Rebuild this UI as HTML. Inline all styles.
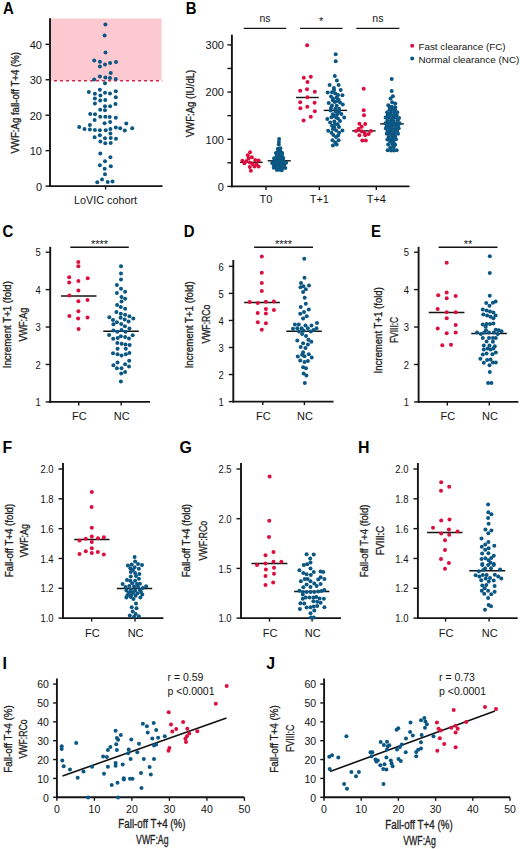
<!DOCTYPE html>
<html><head><meta charset="utf-8"><style>
html,body{margin:0;padding:0;background:#fff;}
svg{display:block;}
text{font-family:"Liberation Sans", sans-serif;}
</style></head><body>
<svg width="520" height="849" viewBox="0 0 520 849">
<rect width="520" height="849" fill="#fff"/>
<rect x="50.8" y="18.5" width="110.7" height="62.10" fill="#fdc9d1"/>
<line x1="50.80" y1="80.75" x2="162.50" y2="80.75" stroke="#c81a40" stroke-width="1.5" stroke-dasharray="2.7 3.3" stroke-dashoffset="2.6"/>
<text transform="translate(3.00 13.60) scale(0.905 1)" font-size="16.5" font-weight="bold" fill="#000">A</text>
<line x1="50.00" y1="18.30" x2="50.00" y2="187.00" stroke="#141414" stroke-width="1.9" />
<line x1="45.50" y1="186.10" x2="50.00" y2="186.10" stroke="#141414" stroke-width="1.4" />
<text x="42.00" y="190.50" font-size="11" text-anchor="end" fill="#141414" >0</text>
<line x1="45.50" y1="150.65" x2="50.00" y2="150.65" stroke="#141414" stroke-width="1.4" />
<text x="42.00" y="155.05" font-size="11" text-anchor="end" fill="#141414" >10</text>
<line x1="45.50" y1="115.20" x2="50.00" y2="115.20" stroke="#141414" stroke-width="1.4" />
<text x="42.00" y="119.60" font-size="11" text-anchor="end" fill="#141414" >20</text>
<line x1="45.50" y1="79.75" x2="50.00" y2="79.75" stroke="#141414" stroke-width="1.4" />
<text x="42.00" y="84.15" font-size="11" text-anchor="end" fill="#141414" >30</text>
<line x1="45.50" y1="44.30" x2="50.00" y2="44.30" stroke="#141414" stroke-width="1.4" />
<text x="42.00" y="48.70" font-size="11" text-anchor="end" fill="#141414" >40</text>
<line x1="49.10" y1="186.10" x2="162.50" y2="186.10" stroke="#141414" stroke-width="1.9" />
<line x1="105.60" y1="186.10" x2="105.60" y2="189.60" stroke="#141414" stroke-width="1.4" />
<text x="105.50" y="203.80" font-size="10.8" text-anchor="middle" fill="#141414" >LoVIC cohort</text>
<text x="19.40" y="102.80" font-size="11" text-anchor="middle" fill="#1e1e1e" stroke="#1e1e1e" stroke-width="0.32" textLength="101.50" lengthAdjust="spacingAndGlyphs" transform="rotate(-90 19.40 102.80)">VWF:Ag fall-off T+4 (%)</text>
<text transform="translate(185.80 13.60) scale(0.905 1)" font-size="16.5" font-weight="bold" fill="#000">B</text>
<line x1="231.90" y1="34.70" x2="231.90" y2="187.30" stroke="#141414" stroke-width="1.9" />
<line x1="227.40" y1="186.40" x2="231.90" y2="186.40" stroke="#141414" stroke-width="1.4" />
<text x="223.90" y="190.80" font-size="11" text-anchor="end" fill="#141414" >0</text>
<line x1="227.40" y1="139.23" x2="231.90" y2="139.23" stroke="#141414" stroke-width="1.4" />
<text x="223.90" y="143.63" font-size="11" text-anchor="end" fill="#141414" >100</text>
<line x1="227.40" y1="92.06" x2="231.90" y2="92.06" stroke="#141414" stroke-width="1.4" />
<text x="223.90" y="96.46" font-size="11" text-anchor="end" fill="#141414" >200</text>
<line x1="227.40" y1="44.89" x2="231.90" y2="44.89" stroke="#141414" stroke-width="1.4" />
<text x="223.90" y="49.29" font-size="11" text-anchor="end" fill="#141414" >300</text>
<line x1="227.40" y1="162.81" x2="231.90" y2="162.81" stroke="#141414" stroke-width="1.4" />
<line x1="227.40" y1="115.65" x2="231.90" y2="115.65" stroke="#141414" stroke-width="1.4" />
<line x1="227.40" y1="68.48" x2="231.90" y2="68.48" stroke="#141414" stroke-width="1.4" />
<line x1="231.00" y1="186.40" x2="409.50" y2="186.40" stroke="#141414" stroke-width="1.9" />
<line x1="266.00" y1="186.40" x2="266.00" y2="189.90" stroke="#141414" stroke-width="1.4" />
<text x="266.00" y="203.00" font-size="11" text-anchor="middle" fill="#141414" >T0</text>
<line x1="319.30" y1="186.40" x2="319.30" y2="189.90" stroke="#141414" stroke-width="1.4" />
<text x="319.30" y="203.00" font-size="11" text-anchor="middle" fill="#141414" >T+1</text>
<line x1="376.30" y1="186.40" x2="376.30" y2="189.90" stroke="#141414" stroke-width="1.4" />
<text x="376.30" y="203.00" font-size="11" text-anchor="middle" fill="#141414" >T+4</text>
<line x1="243.70" y1="28.40" x2="286.20" y2="28.40" stroke="#141414" stroke-width="1.4" />
<text x="264.95" y="22.20" font-size="10.5" text-anchor="middle" fill="#141414" >ns</text>
<line x1="300.00" y1="28.40" x2="342.50" y2="28.40" stroke="#141414" stroke-width="1.4" />
<text x="321.25" y="25.20" font-size="11" text-anchor="middle" fill="#141414" >*</text>
<line x1="356.30" y1="28.40" x2="399.40" y2="28.40" stroke="#141414" stroke-width="1.4" />
<text x="377.85" y="22.20" font-size="10.5" text-anchor="middle" fill="#141414" >ns</text>
<text x="418.40" y="50.00" font-size="9.9" text-anchor="start" fill="#141414" >Fast clearance (FC)</text>
<text x="418.40" y="62.90" font-size="9.9" text-anchor="start" fill="#141414" >Normal clearance (NC)</text>
<text x="194.10" y="103.50" font-size="11" text-anchor="middle" fill="#1e1e1e" stroke="#1e1e1e" stroke-width="0.32" textLength="67.50" lengthAdjust="spacingAndGlyphs" transform="rotate(-90 194.10 103.50)">VWF:Ag (IU/dL)</text>
<text transform="translate(2.50 236.50) scale(0.905 1)" font-size="16.5" font-weight="bold" fill="#000">C</text>
<line x1="50.20" y1="246.80" x2="50.20" y2="402.80" stroke="#141414" stroke-width="1.9" />
<line x1="45.70" y1="401.90" x2="50.20" y2="401.90" stroke="#141414" stroke-width="1.4" />
<text transform="translate(40.70 406.10) scale(0.9 1)" font-size="10.5" text-anchor="end" fill="#141414">1</text>
<line x1="45.70" y1="364.47" x2="50.20" y2="364.47" stroke="#141414" stroke-width="1.4" />
<text transform="translate(40.70 368.67) scale(0.9 1)" font-size="10.5" text-anchor="end" fill="#141414">2</text>
<line x1="45.70" y1="327.04" x2="50.20" y2="327.04" stroke="#141414" stroke-width="1.4" />
<text transform="translate(40.70 331.24) scale(0.9 1)" font-size="10.5" text-anchor="end" fill="#141414">3</text>
<line x1="45.70" y1="289.61" x2="50.20" y2="289.61" stroke="#141414" stroke-width="1.4" />
<text transform="translate(40.70 293.81) scale(0.9 1)" font-size="10.5" text-anchor="end" fill="#141414">4</text>
<line x1="45.70" y1="252.18" x2="50.20" y2="252.18" stroke="#141414" stroke-width="1.4" />
<text transform="translate(40.70 256.38) scale(0.9 1)" font-size="10.5" text-anchor="end" fill="#141414">5</text>
<line x1="49.30" y1="401.90" x2="150.00" y2="401.90" stroke="#141414" stroke-width="1.9" />
<line x1="78.70" y1="401.90" x2="78.70" y2="405.40" stroke="#141414" stroke-width="1.4" />
<text x="79.30" y="419.50" font-size="11" text-anchor="middle" fill="#141414" >FC</text>
<line x1="121.20" y1="401.90" x2="121.20" y2="405.40" stroke="#141414" stroke-width="1.4" />
<text x="121.80" y="419.50" font-size="11" text-anchor="middle" fill="#141414" >NC</text>
<text x="10.60" y="324.70" font-size="11" text-anchor="middle" fill="#1e1e1e" stroke="#1e1e1e" stroke-width="0.32" textLength="87.20" lengthAdjust="spacingAndGlyphs" transform="rotate(-90 10.60 324.70)">Increment T+1 (fold)</text>
<text x="26.70" y="324.65" font-size="11" text-anchor="middle" fill="#1e1e1e" stroke="#1e1e1e" stroke-width="0.32" textLength="33.80" lengthAdjust="spacingAndGlyphs" transform="rotate(-90 26.70 324.65)">VWF:Ag</text>
<line x1="70.30" y1="247.20" x2="128.80" y2="247.20" stroke="#141414" stroke-width="1.4" />
<text x="99.55" y="248.00" font-size="11" text-anchor="middle" fill="#141414" >****</text>
<text transform="translate(183.80 236.50) scale(0.905 1)" font-size="16.5" font-weight="bold" fill="#000">D</text>
<line x1="233.30" y1="260.00" x2="233.30" y2="402.50" stroke="#141414" stroke-width="1.9" />
<line x1="228.80" y1="401.60" x2="233.30" y2="401.60" stroke="#141414" stroke-width="1.4" />
<text transform="translate(223.80 405.80) scale(0.9 1)" font-size="10.5" text-anchor="end" fill="#141414">1</text>
<line x1="228.80" y1="374.55" x2="233.30" y2="374.55" stroke="#141414" stroke-width="1.4" />
<text transform="translate(223.80 378.75) scale(0.9 1)" font-size="10.5" text-anchor="end" fill="#141414">2</text>
<line x1="228.80" y1="347.50" x2="233.30" y2="347.50" stroke="#141414" stroke-width="1.4" />
<text transform="translate(223.80 351.70) scale(0.9 1)" font-size="10.5" text-anchor="end" fill="#141414">3</text>
<line x1="228.80" y1="320.45" x2="233.30" y2="320.45" stroke="#141414" stroke-width="1.4" />
<text transform="translate(223.80 324.65) scale(0.9 1)" font-size="10.5" text-anchor="end" fill="#141414">4</text>
<line x1="228.80" y1="293.40" x2="233.30" y2="293.40" stroke="#141414" stroke-width="1.4" />
<text transform="translate(223.80 297.60) scale(0.9 1)" font-size="10.5" text-anchor="end" fill="#141414">5</text>
<line x1="228.80" y1="266.35" x2="233.30" y2="266.35" stroke="#141414" stroke-width="1.4" />
<text transform="translate(223.80 270.55) scale(0.9 1)" font-size="10.5" text-anchor="end" fill="#141414">6</text>
<line x1="232.40" y1="401.60" x2="333.60" y2="401.60" stroke="#141414" stroke-width="1.9" />
<line x1="262.80" y1="401.60" x2="262.80" y2="405.10" stroke="#141414" stroke-width="1.4" />
<text x="263.40" y="419.50" font-size="11" text-anchor="middle" fill="#141414" >FC</text>
<line x1="304.40" y1="401.60" x2="304.40" y2="405.10" stroke="#141414" stroke-width="1.4" />
<text x="305.00" y="419.50" font-size="11" text-anchor="middle" fill="#141414" >NC</text>
<text x="193.40" y="324.80" font-size="11" text-anchor="middle" fill="#1e1e1e" stroke="#1e1e1e" stroke-width="0.32" textLength="87.00" lengthAdjust="spacingAndGlyphs" transform="rotate(-90 193.40 324.80)">Increment T+1 (fold)</text>
<text x="210.30" y="324.10" font-size="11" text-anchor="middle" fill="#1e1e1e" stroke="#1e1e1e" stroke-width="0.32" textLength="39.00" lengthAdjust="spacingAndGlyphs" transform="rotate(-90 210.30 324.10)">VWF:RCo</text>
<line x1="254.10" y1="247.20" x2="313.00" y2="247.20" stroke="#141414" stroke-width="1.4" />
<text x="283.55" y="248.00" font-size="11" text-anchor="middle" fill="#141414" >****</text>
<text transform="translate(371.00 236.50) scale(0.905 1)" font-size="16.5" font-weight="bold" fill="#000">E</text>
<line x1="418.60" y1="246.80" x2="418.60" y2="402.80" stroke="#141414" stroke-width="1.9" />
<line x1="414.10" y1="401.90" x2="418.60" y2="401.90" stroke="#141414" stroke-width="1.4" />
<text transform="translate(409.10 406.10) scale(0.9 1)" font-size="10.5" text-anchor="end" fill="#141414">1</text>
<line x1="414.10" y1="364.47" x2="418.60" y2="364.47" stroke="#141414" stroke-width="1.4" />
<text transform="translate(409.10 368.67) scale(0.9 1)" font-size="10.5" text-anchor="end" fill="#141414">2</text>
<line x1="414.10" y1="327.04" x2="418.60" y2="327.04" stroke="#141414" stroke-width="1.4" />
<text transform="translate(409.10 331.24) scale(0.9 1)" font-size="10.5" text-anchor="end" fill="#141414">3</text>
<line x1="414.10" y1="289.61" x2="418.60" y2="289.61" stroke="#141414" stroke-width="1.4" />
<text transform="translate(409.10 293.81) scale(0.9 1)" font-size="10.5" text-anchor="end" fill="#141414">4</text>
<line x1="414.10" y1="252.18" x2="418.60" y2="252.18" stroke="#141414" stroke-width="1.4" />
<text transform="translate(409.10 256.38) scale(0.9 1)" font-size="10.5" text-anchor="end" fill="#141414">5</text>
<line x1="417.70" y1="401.90" x2="518.30" y2="401.90" stroke="#141414" stroke-width="1.9" />
<line x1="447.30" y1="401.90" x2="447.30" y2="405.40" stroke="#141414" stroke-width="1.4" />
<text x="447.90" y="419.50" font-size="11" text-anchor="middle" fill="#141414" >FC</text>
<line x1="489.30" y1="401.90" x2="489.30" y2="405.40" stroke="#141414" stroke-width="1.4" />
<text x="489.90" y="419.50" font-size="11" text-anchor="middle" fill="#141414" >NC</text>
<text x="381.70" y="330.30" font-size="11" text-anchor="middle" fill="#1e1e1e" stroke="#1e1e1e" stroke-width="0.32" textLength="86.40" lengthAdjust="spacingAndGlyphs" transform="rotate(-90 381.70 330.30)">Increment T+1 (fold)</text>
<text x="398.50" y="329.90" font-size="11" text-anchor="middle" fill="#1e1e1e" stroke="#1e1e1e" stroke-width="0.32" textLength="26.10" lengthAdjust="spacingAndGlyphs" transform="rotate(-90 398.50 329.90)">FVIII:C</text>
<line x1="438.60" y1="247.20" x2="497.50" y2="247.20" stroke="#141414" stroke-width="1.4" />
<text x="468.05" y="248.00" font-size="11" text-anchor="middle" fill="#141414" >**</text>
<text transform="translate(2.50 452.60) scale(1.02 1)" font-size="15.6" font-weight="bold" fill="#000">F</text>
<line x1="63.00" y1="463.00" x2="63.00" y2="619.00" stroke="#141414" stroke-width="1.9" />
<line x1="58.50" y1="618.10" x2="63.00" y2="618.10" stroke="#141414" stroke-width="1.4" />
<text transform="translate(53.50 622.30) scale(0.9 1)" font-size="10.5" text-anchor="end" fill="#141414">1.0</text>
<line x1="58.50" y1="588.28" x2="63.00" y2="588.28" stroke="#141414" stroke-width="1.4" />
<text transform="translate(53.50 592.48) scale(0.9 1)" font-size="10.5" text-anchor="end" fill="#141414">1.2</text>
<line x1="58.50" y1="558.46" x2="63.00" y2="558.46" stroke="#141414" stroke-width="1.4" />
<text transform="translate(53.50 562.66) scale(0.9 1)" font-size="10.5" text-anchor="end" fill="#141414">1.4</text>
<line x1="58.50" y1="528.64" x2="63.00" y2="528.64" stroke="#141414" stroke-width="1.4" />
<text transform="translate(53.50 532.84) scale(0.9 1)" font-size="10.5" text-anchor="end" fill="#141414">1.6</text>
<line x1="58.50" y1="498.82" x2="63.00" y2="498.82" stroke="#141414" stroke-width="1.4" />
<text transform="translate(53.50 503.02) scale(0.9 1)" font-size="10.5" text-anchor="end" fill="#141414">1.8</text>
<line x1="58.50" y1="469.00" x2="63.00" y2="469.00" stroke="#141414" stroke-width="1.4" />
<text transform="translate(53.50 473.20) scale(0.9 1)" font-size="10.5" text-anchor="end" fill="#141414">2.0</text>
<line x1="62.10" y1="618.10" x2="163.40" y2="618.10" stroke="#141414" stroke-width="1.9" />
<line x1="91.70" y1="618.10" x2="91.70" y2="621.60" stroke="#141414" stroke-width="1.4" />
<text x="92.30" y="636.50" font-size="11" text-anchor="middle" fill="#141414" >FC</text>
<line x1="135.00" y1="618.10" x2="135.00" y2="621.60" stroke="#141414" stroke-width="1.4" />
<text x="135.60" y="636.50" font-size="11" text-anchor="middle" fill="#141414" >NC</text>
<text x="12.80" y="540.60" font-size="11" text-anchor="middle" fill="#1e1e1e" stroke="#1e1e1e" stroke-width="0.32" textLength="73.40" lengthAdjust="spacingAndGlyphs" transform="rotate(-90 12.80 540.60)">Fall-off T+4 (fold)</text>
<text x="27.70" y="540.60" font-size="11" text-anchor="middle" fill="#1e1e1e" stroke="#1e1e1e" stroke-width="0.32" textLength="33.20" lengthAdjust="spacingAndGlyphs" transform="rotate(-90 27.70 540.60)">VWF:Ag</text>
<text transform="translate(179.50 452.60) scale(1.02 1)" font-size="15.6" font-weight="bold" fill="#000">G</text>
<line x1="241.00" y1="463.00" x2="241.00" y2="619.00" stroke="#141414" stroke-width="1.9" />
<line x1="236.50" y1="618.10" x2="241.00" y2="618.10" stroke="#141414" stroke-width="1.4" />
<text transform="translate(231.50 622.30) scale(0.9 1)" font-size="10.5" text-anchor="end" fill="#141414">1.0</text>
<line x1="236.50" y1="568.40" x2="241.00" y2="568.40" stroke="#141414" stroke-width="1.4" />
<text transform="translate(231.50 572.60) scale(0.9 1)" font-size="10.5" text-anchor="end" fill="#141414">1.5</text>
<line x1="236.50" y1="518.70" x2="241.00" y2="518.70" stroke="#141414" stroke-width="1.4" />
<text transform="translate(231.50 522.90) scale(0.9 1)" font-size="10.5" text-anchor="end" fill="#141414">2.0</text>
<line x1="236.50" y1="469.00" x2="241.00" y2="469.00" stroke="#141414" stroke-width="1.4" />
<text transform="translate(231.50 473.20) scale(0.9 1)" font-size="10.5" text-anchor="end" fill="#141414">2.5</text>
<line x1="240.10" y1="618.10" x2="341.00" y2="618.10" stroke="#141414" stroke-width="1.9" />
<line x1="269.50" y1="618.10" x2="269.50" y2="621.60" stroke="#141414" stroke-width="1.4" />
<text x="270.10" y="636.50" font-size="11" text-anchor="middle" fill="#141414" >FC</text>
<line x1="312.10" y1="618.10" x2="312.10" y2="621.60" stroke="#141414" stroke-width="1.4" />
<text x="312.70" y="636.50" font-size="11" text-anchor="middle" fill="#141414" >NC</text>
<text x="190.40" y="540.60" font-size="11" text-anchor="middle" fill="#1e1e1e" stroke="#1e1e1e" stroke-width="0.32" textLength="73.40" lengthAdjust="spacingAndGlyphs" transform="rotate(-90 190.40 540.60)">Fall-off T+4 (fold)</text>
<text x="206.60" y="540.60" font-size="11" text-anchor="middle" fill="#1e1e1e" stroke="#1e1e1e" stroke-width="0.32" textLength="39.70" lengthAdjust="spacingAndGlyphs" transform="rotate(-90 206.60 540.60)">VWF:RCo</text>
<text transform="translate(357.90 452.60) scale(1.02 1)" font-size="15.6" font-weight="bold" fill="#000">H</text>
<line x1="417.90" y1="463.00" x2="417.90" y2="619.00" stroke="#141414" stroke-width="1.9" />
<line x1="413.40" y1="618.10" x2="417.90" y2="618.10" stroke="#141414" stroke-width="1.4" />
<text transform="translate(408.40 622.30) scale(0.9 1)" font-size="10.5" text-anchor="end" fill="#141414">1.0</text>
<line x1="413.40" y1="588.28" x2="417.90" y2="588.28" stroke="#141414" stroke-width="1.4" />
<text transform="translate(408.40 592.48) scale(0.9 1)" font-size="10.5" text-anchor="end" fill="#141414">1.2</text>
<line x1="413.40" y1="558.46" x2="417.90" y2="558.46" stroke="#141414" stroke-width="1.4" />
<text transform="translate(408.40 562.66) scale(0.9 1)" font-size="10.5" text-anchor="end" fill="#141414">1.4</text>
<line x1="413.40" y1="528.64" x2="417.90" y2="528.64" stroke="#141414" stroke-width="1.4" />
<text transform="translate(408.40 532.84) scale(0.9 1)" font-size="10.5" text-anchor="end" fill="#141414">1.6</text>
<line x1="413.40" y1="498.82" x2="417.90" y2="498.82" stroke="#141414" stroke-width="1.4" />
<text transform="translate(408.40 503.02) scale(0.9 1)" font-size="10.5" text-anchor="end" fill="#141414">1.8</text>
<line x1="413.40" y1="469.00" x2="417.90" y2="469.00" stroke="#141414" stroke-width="1.4" />
<text transform="translate(408.40 473.20) scale(0.9 1)" font-size="10.5" text-anchor="end" fill="#141414">2.0</text>
<line x1="417.00" y1="618.10" x2="517.70" y2="618.10" stroke="#141414" stroke-width="1.9" />
<line x1="445.60" y1="618.10" x2="445.60" y2="621.60" stroke="#141414" stroke-width="1.4" />
<text x="446.20" y="636.50" font-size="11" text-anchor="middle" fill="#141414" >FC</text>
<line x1="489.10" y1="618.10" x2="489.10" y2="621.60" stroke="#141414" stroke-width="1.4" />
<text x="489.70" y="636.50" font-size="11" text-anchor="middle" fill="#141414" >NC</text>
<text x="368.20" y="540.90" font-size="11" text-anchor="middle" fill="#1e1e1e" stroke="#1e1e1e" stroke-width="0.32" textLength="72.80" lengthAdjust="spacingAndGlyphs" transform="rotate(-90 368.20 540.90)">Fall-off T+4 (fold)</text>
<text x="383.80" y="540.60" font-size="11" text-anchor="middle" fill="#1e1e1e" stroke="#1e1e1e" stroke-width="0.32" textLength="29.30" lengthAdjust="spacingAndGlyphs" transform="rotate(-90 383.80 540.60)">FVIII:C</text>
<text transform="translate(2.60 668.80) scale(1.02 1)" font-size="15.6" font-weight="bold" fill="#000">I</text>
<line x1="56.90" y1="678.50" x2="56.90" y2="798.20" stroke="#141414" stroke-width="1.9" />
<line x1="53.10" y1="797.30" x2="56.90" y2="797.30" stroke="#141414" stroke-width="1.4" />
<text x="48.90" y="801.70" font-size="10.5" text-anchor="end" fill="#141414" >0</text>
<line x1="53.10" y1="778.43" x2="56.90" y2="778.43" stroke="#141414" stroke-width="1.4" />
<text x="48.90" y="782.83" font-size="10.5" text-anchor="end" fill="#141414" >10</text>
<line x1="53.10" y1="759.56" x2="56.90" y2="759.56" stroke="#141414" stroke-width="1.4" />
<text x="48.90" y="763.96" font-size="10.5" text-anchor="end" fill="#141414" >20</text>
<line x1="53.10" y1="740.69" x2="56.90" y2="740.69" stroke="#141414" stroke-width="1.4" />
<text x="48.90" y="745.09" font-size="10.5" text-anchor="end" fill="#141414" >30</text>
<line x1="53.10" y1="721.82" x2="56.90" y2="721.82" stroke="#141414" stroke-width="1.4" />
<text x="48.90" y="726.22" font-size="10.5" text-anchor="end" fill="#141414" >40</text>
<line x1="53.10" y1="702.95" x2="56.90" y2="702.95" stroke="#141414" stroke-width="1.4" />
<text x="48.90" y="707.35" font-size="10.5" text-anchor="end" fill="#141414" >50</text>
<line x1="53.10" y1="684.08" x2="56.90" y2="684.08" stroke="#141414" stroke-width="1.4" />
<text x="48.90" y="688.48" font-size="10.5" text-anchor="end" fill="#141414" >60</text>
<line x1="56.00" y1="797.30" x2="244.40" y2="797.30" stroke="#141414" stroke-width="1.9" />
<line x1="56.90" y1="797.30" x2="56.90" y2="800.80" stroke="#141414" stroke-width="1.4" />
<text x="56.90" y="812.80" font-size="10.5" text-anchor="middle" fill="#141414" >0</text>
<line x1="94.40" y1="797.30" x2="94.40" y2="800.80" stroke="#141414" stroke-width="1.4" />
<text x="94.40" y="812.80" font-size="10.5" text-anchor="middle" fill="#141414" >10</text>
<line x1="131.90" y1="797.30" x2="131.90" y2="800.80" stroke="#141414" stroke-width="1.4" />
<text x="131.90" y="812.80" font-size="10.5" text-anchor="middle" fill="#141414" >20</text>
<line x1="169.40" y1="797.30" x2="169.40" y2="800.80" stroke="#141414" stroke-width="1.4" />
<text x="169.40" y="812.80" font-size="10.5" text-anchor="middle" fill="#141414" >30</text>
<line x1="206.90" y1="797.30" x2="206.90" y2="800.80" stroke="#141414" stroke-width="1.4" />
<text x="206.90" y="812.80" font-size="10.5" text-anchor="middle" fill="#141414" >40</text>
<line x1="244.40" y1="797.30" x2="244.40" y2="800.80" stroke="#141414" stroke-width="1.4" />
<text x="244.40" y="812.80" font-size="10.5" text-anchor="middle" fill="#141414" >50</text>
<text x="11.50" y="739.00" font-size="11" text-anchor="middle" fill="#1e1e1e" stroke="#1e1e1e" stroke-width="0.32" textLength="67.50" lengthAdjust="spacingAndGlyphs" transform="rotate(-90 11.50 739.00)">Fall-off T+4 (%)</text>
<text x="27.00" y="739.00" font-size="11" text-anchor="middle" fill="#1e1e1e" stroke="#1e1e1e" stroke-width="0.32" textLength="39.10" lengthAdjust="spacingAndGlyphs" transform="rotate(-90 27.00 739.00)">VWF:RCo</text>
<text x="151.90" y="828.40" font-size="12" text-anchor="middle" fill="#1e1e1e" stroke="#1e1e1e" stroke-width="0.32" textLength="67.10" lengthAdjust="spacingAndGlyphs">Fall-off T+4 (%)</text>
<text x="152.30" y="843.90" font-size="12" text-anchor="middle" fill="#1e1e1e" stroke="#1e1e1e" stroke-width="0.32" textLength="32.40" lengthAdjust="spacingAndGlyphs">VWF:Ag</text>
<text x="167.50" y="681.00" font-size="10.5" text-anchor="start" fill="#141414" >r = 0.59</text>
<text x="167.50" y="695.00" font-size="10.5" text-anchor="start" fill="#141414" >p &lt;0.0001</text>
<line x1="62.50" y1="776.00" x2="226.50" y2="718.00" stroke="#111" stroke-width="1.6" />
<text transform="translate(266.30 668.80) scale(1.02 1)" font-size="15.6" font-weight="bold" fill="#000">J</text>
<line x1="324.10" y1="678.50" x2="324.10" y2="798.20" stroke="#141414" stroke-width="1.9" />
<line x1="320.30" y1="797.30" x2="324.10" y2="797.30" stroke="#141414" stroke-width="1.4" />
<text x="316.10" y="801.70" font-size="10.5" text-anchor="end" fill="#141414" >0</text>
<line x1="320.30" y1="778.43" x2="324.10" y2="778.43" stroke="#141414" stroke-width="1.4" />
<text x="316.10" y="782.83" font-size="10.5" text-anchor="end" fill="#141414" >10</text>
<line x1="320.30" y1="759.56" x2="324.10" y2="759.56" stroke="#141414" stroke-width="1.4" />
<text x="316.10" y="763.96" font-size="10.5" text-anchor="end" fill="#141414" >20</text>
<line x1="320.30" y1="740.69" x2="324.10" y2="740.69" stroke="#141414" stroke-width="1.4" />
<text x="316.10" y="745.09" font-size="10.5" text-anchor="end" fill="#141414" >30</text>
<line x1="320.30" y1="721.82" x2="324.10" y2="721.82" stroke="#141414" stroke-width="1.4" />
<text x="316.10" y="726.22" font-size="10.5" text-anchor="end" fill="#141414" >40</text>
<line x1="320.30" y1="702.95" x2="324.10" y2="702.95" stroke="#141414" stroke-width="1.4" />
<text x="316.10" y="707.35" font-size="10.5" text-anchor="end" fill="#141414" >50</text>
<line x1="320.30" y1="684.08" x2="324.10" y2="684.08" stroke="#141414" stroke-width="1.4" />
<text x="316.10" y="688.48" font-size="10.5" text-anchor="end" fill="#141414" >60</text>
<line x1="323.20" y1="797.30" x2="510.00" y2="797.30" stroke="#141414" stroke-width="1.9" />
<line x1="324.00" y1="797.30" x2="324.00" y2="800.80" stroke="#141414" stroke-width="1.4" />
<text x="324.00" y="812.80" font-size="10.5" text-anchor="middle" fill="#141414" >0</text>
<line x1="361.20" y1="797.30" x2="361.20" y2="800.80" stroke="#141414" stroke-width="1.4" />
<text x="361.20" y="812.80" font-size="10.5" text-anchor="middle" fill="#141414" >10</text>
<line x1="398.40" y1="797.30" x2="398.40" y2="800.80" stroke="#141414" stroke-width="1.4" />
<text x="398.40" y="812.80" font-size="10.5" text-anchor="middle" fill="#141414" >20</text>
<line x1="435.60" y1="797.30" x2="435.60" y2="800.80" stroke="#141414" stroke-width="1.4" />
<text x="435.60" y="812.80" font-size="10.5" text-anchor="middle" fill="#141414" >30</text>
<line x1="472.80" y1="797.30" x2="472.80" y2="800.80" stroke="#141414" stroke-width="1.4" />
<text x="472.80" y="812.80" font-size="10.5" text-anchor="middle" fill="#141414" >40</text>
<line x1="510.00" y1="797.30" x2="510.00" y2="800.80" stroke="#141414" stroke-width="1.4" />
<text x="510.00" y="812.80" font-size="10.5" text-anchor="middle" fill="#141414" >50</text>
<text x="277.80" y="739.00" font-size="11" text-anchor="middle" fill="#1e1e1e" stroke="#1e1e1e" stroke-width="0.32" textLength="67.50" lengthAdjust="spacingAndGlyphs" transform="rotate(-90 277.80 739.00)">Fall-off T+4 (%)</text>
<text x="294.00" y="738.30" font-size="11" text-anchor="middle" fill="#1e1e1e" stroke="#1e1e1e" stroke-width="0.32" textLength="27.40" lengthAdjust="spacingAndGlyphs" transform="rotate(-90 294.00 738.30)">FVIII:C</text>
<text x="419.00" y="829.00" font-size="12" text-anchor="middle" fill="#1e1e1e" stroke="#1e1e1e" stroke-width="0.32" textLength="67.30" lengthAdjust="spacingAndGlyphs">Fall-off T+4 (%)</text>
<text x="419.50" y="844.80" font-size="12" text-anchor="middle" fill="#1e1e1e" stroke="#1e1e1e" stroke-width="0.32" textLength="32.50" lengthAdjust="spacingAndGlyphs">VWF:Ag</text>
<text x="439.00" y="681.00" font-size="10.5" text-anchor="start" fill="#141414" >r = 0.73</text>
<text x="439.00" y="695.00" font-size="10.5" text-anchor="start" fill="#141414" >p &lt;0.0001</text>
<line x1="330.00" y1="771.50" x2="495.00" y2="711.00" stroke="#111" stroke-width="1.6" />
<line x1="240.10" y1="162.30" x2="262.60" y2="162.30" stroke="#141414" stroke-width="1.4" />
<line x1="267.70" y1="160.80" x2="290.80" y2="160.80" stroke="#141414" stroke-width="1.4" />
<line x1="296.00" y1="97.50" x2="318.80" y2="97.50" stroke="#141414" stroke-width="1.4" />
<line x1="323.70" y1="110.40" x2="347.10" y2="110.40" stroke="#141414" stroke-width="1.4" />
<line x1="352.20" y1="130.90" x2="375.60" y2="130.90" stroke="#141414" stroke-width="1.4" />
<line x1="380.20" y1="123.90" x2="403.80" y2="123.90" stroke="#141414" stroke-width="1.4" />
<line x1="61.00" y1="295.90" x2="96.50" y2="295.90" stroke="#141414" stroke-width="1.5" />
<line x1="103.30" y1="331.20" x2="138.80" y2="331.20" stroke="#141414" stroke-width="1.5" />
<line x1="244.20" y1="302.60" x2="279.90" y2="302.60" stroke="#141414" stroke-width="1.5" />
<line x1="286.30" y1="331.30" x2="321.80" y2="331.30" stroke="#141414" stroke-width="1.5" />
<line x1="428.70" y1="312.40" x2="464.40" y2="312.40" stroke="#141414" stroke-width="1.5" />
<line x1="471.30" y1="333.60" x2="506.80" y2="333.60" stroke="#141414" stroke-width="1.5" />
<line x1="74.30" y1="539.60" x2="109.50" y2="539.60" stroke="#141414" stroke-width="1.5" />
<line x1="116.80" y1="588.50" x2="152.20" y2="588.50" stroke="#141414" stroke-width="1.5" />
<line x1="251.40" y1="563.60" x2="287.40" y2="563.60" stroke="#141414" stroke-width="1.5" />
<line x1="294.10" y1="591.60" x2="329.40" y2="591.60" stroke="#141414" stroke-width="1.5" />
<line x1="427.10" y1="532.40" x2="462.50" y2="532.40" stroke="#141414" stroke-width="1.5" />
<line x1="469.30" y1="570.70" x2="505.20" y2="570.70" stroke="#141414" stroke-width="1.5" />
<circle cx="412.20" cy="45.70" r="2.0" fill="#dc0e3e"/>
<circle cx="412.20" cy="58.50" r="2.0" fill="#0b5784"/>
<circle cx="105.40" cy="24.40" r="2.0" fill="#0b5784"/>
<circle cx="104.60" cy="35.50" r="2.0" fill="#0b5784"/>
<circle cx="105.50" cy="52.40" r="2.0" fill="#0b5784"/>
<circle cx="94.20" cy="60.40" r="2.0" fill="#0b5784"/>
<circle cx="99.90" cy="61.70" r="2.0" fill="#0b5784"/>
<circle cx="99.90" cy="66.40" r="2.0" fill="#0b5784"/>
<circle cx="105.00" cy="64.50" r="2.0" fill="#0b5784"/>
<circle cx="110.10" cy="63.10" r="2.0" fill="#0b5784"/>
<circle cx="116.00" cy="62.00" r="2.0" fill="#0b5784"/>
<circle cx="110.70" cy="72.90" r="2.0" fill="#0b5784"/>
<circle cx="99.90" cy="76.40" r="2.0" fill="#0b5784"/>
<circle cx="105.40" cy="77.50" r="2.0" fill="#0b5784"/>
<circle cx="110.00" cy="78.00" r="2.0" fill="#0b5784"/>
<circle cx="115.80" cy="79.10" r="2.0" fill="#0b5784"/>
<circle cx="94.20" cy="79.60" r="2.0" fill="#0b5784"/>
<circle cx="105.00" cy="83.30" r="2.0" fill="#0b5784"/>
<circle cx="99.90" cy="89.80" r="2.0" fill="#0b5784"/>
<circle cx="88.80" cy="91.90" r="2.0" fill="#0b5784"/>
<circle cx="94.90" cy="93.70" r="2.0" fill="#0b5784"/>
<circle cx="100.40" cy="95.50" r="2.0" fill="#0b5784"/>
<circle cx="105.00" cy="92.80" r="2.0" fill="#0b5784"/>
<circle cx="110.00" cy="93.50" r="2.0" fill="#0b5784"/>
<circle cx="115.80" cy="91.20" r="2.0" fill="#0b5784"/>
<circle cx="115.80" cy="97.30" r="2.0" fill="#0b5784"/>
<circle cx="94.90" cy="98.50" r="2.0" fill="#0b5784"/>
<circle cx="100.20" cy="100.50" r="2.0" fill="#0b5784"/>
<circle cx="105.30" cy="99.90" r="2.0" fill="#0b5784"/>
<circle cx="94.90" cy="103.60" r="2.0" fill="#0b5784"/>
<circle cx="115.50" cy="104.00" r="2.0" fill="#0b5784"/>
<circle cx="110.10" cy="106.30" r="2.0" fill="#0b5784"/>
<circle cx="105.00" cy="106.30" r="2.0" fill="#0b5784"/>
<circle cx="100.20" cy="109.80" r="2.0" fill="#0b5784"/>
<circle cx="105.00" cy="110.30" r="2.0" fill="#0b5784"/>
<circle cx="90.20" cy="114.10" r="2.0" fill="#0b5784"/>
<circle cx="95.00" cy="114.30" r="2.0" fill="#0b5784"/>
<circle cx="100.20" cy="116.80" r="2.0" fill="#0b5784"/>
<circle cx="105.30" cy="116.80" r="2.0" fill="#0b5784"/>
<circle cx="109.70" cy="117.00" r="2.0" fill="#0b5784"/>
<circle cx="115.80" cy="117.70" r="2.0" fill="#0b5784"/>
<circle cx="94.60" cy="120.00" r="2.0" fill="#0b5784"/>
<circle cx="104.60" cy="123.20" r="2.0" fill="#0b5784"/>
<circle cx="110.10" cy="121.90" r="2.0" fill="#0b5784"/>
<circle cx="126.30" cy="123.40" r="2.0" fill="#0b5784"/>
<circle cx="89.90" cy="125.10" r="2.0" fill="#0b5784"/>
<circle cx="79.20" cy="127.10" r="2.0" fill="#0b5784"/>
<circle cx="84.50" cy="128.90" r="2.0" fill="#0b5784"/>
<circle cx="89.90" cy="129.40" r="2.0" fill="#0b5784"/>
<circle cx="94.90" cy="130.10" r="2.0" fill="#0b5784"/>
<circle cx="99.90" cy="130.20" r="2.0" fill="#0b5784"/>
<circle cx="105.70" cy="130.20" r="2.0" fill="#0b5784"/>
<circle cx="110.40" cy="128.90" r="2.0" fill="#0b5784"/>
<circle cx="115.80" cy="127.40" r="2.0" fill="#0b5784"/>
<circle cx="120.20" cy="128.20" r="2.0" fill="#0b5784"/>
<circle cx="124.80" cy="130.50" r="2.0" fill="#0b5784"/>
<circle cx="132.20" cy="128.20" r="2.0" fill="#0b5784"/>
<circle cx="110.40" cy="133.50" r="2.0" fill="#0b5784"/>
<circle cx="99.90" cy="135.20" r="2.0" fill="#0b5784"/>
<circle cx="94.60" cy="137.20" r="2.0" fill="#0b5784"/>
<circle cx="105.00" cy="138.30" r="2.0" fill="#0b5784"/>
<circle cx="110.70" cy="137.90" r="2.0" fill="#0b5784"/>
<circle cx="116.00" cy="138.80" r="2.0" fill="#0b5784"/>
<circle cx="100.40" cy="141.50" r="2.0" fill="#0b5784"/>
<circle cx="105.30" cy="143.30" r="2.0" fill="#0b5784"/>
<circle cx="110.70" cy="143.00" r="2.0" fill="#0b5784"/>
<circle cx="100.30" cy="153.60" r="2.0" fill="#0b5784"/>
<circle cx="110.40" cy="157.30" r="2.0" fill="#0b5784"/>
<circle cx="105.00" cy="161.20" r="2.0" fill="#0b5784"/>
<circle cx="99.90" cy="165.30" r="2.0" fill="#0b5784"/>
<circle cx="110.80" cy="166.30" r="2.0" fill="#0b5784"/>
<circle cx="104.70" cy="168.80" r="2.0" fill="#0b5784"/>
<circle cx="105.00" cy="174.20" r="2.0" fill="#0b5784"/>
<circle cx="102.00" cy="179.50" r="2.0" fill="#0b5784"/>
<circle cx="97.30" cy="182.20" r="2.0" fill="#0b5784"/>
<circle cx="107.70" cy="182.10" r="2.0" fill="#0b5784"/>
<circle cx="112.50" cy="181.40" r="2.0" fill="#0b5784"/>
<circle cx="250.10" cy="152.20" r="2.0" fill="#dc0e3e"/>
<circle cx="247.80" cy="155.20" r="2.0" fill="#dc0e3e"/>
<circle cx="251.80" cy="157.20" r="2.0" fill="#dc0e3e"/>
<circle cx="248.50" cy="158.60" r="2.0" fill="#dc0e3e"/>
<circle cx="242.40" cy="160.80" r="2.0" fill="#dc0e3e"/>
<circle cx="246.40" cy="161.20" r="2.0" fill="#dc0e3e"/>
<circle cx="255.20" cy="159.90" r="2.0" fill="#dc0e3e"/>
<circle cx="258.60" cy="160.60" r="2.0" fill="#dc0e3e"/>
<circle cx="244.40" cy="163.30" r="2.0" fill="#dc0e3e"/>
<circle cx="249.80" cy="162.60" r="2.0" fill="#dc0e3e"/>
<circle cx="252.50" cy="164.00" r="2.0" fill="#dc0e3e"/>
<circle cx="256.50" cy="164.30" r="2.0" fill="#dc0e3e"/>
<circle cx="258.60" cy="166.60" r="2.0" fill="#dc0e3e"/>
<circle cx="254.50" cy="166.60" r="2.0" fill="#dc0e3e"/>
<circle cx="249.80" cy="167.00" r="2.0" fill="#dc0e3e"/>
<circle cx="250.90" cy="170.70" r="2.0" fill="#dc0e3e"/>
<circle cx="307.10" cy="45.20" r="2.0" fill="#dc0e3e"/>
<circle cx="303.80" cy="77.70" r="2.0" fill="#dc0e3e"/>
<circle cx="310.80" cy="76.80" r="2.0" fill="#dc0e3e"/>
<circle cx="307.50" cy="82.10" r="2.0" fill="#dc0e3e"/>
<circle cx="300.20" cy="90.80" r="2.0" fill="#dc0e3e"/>
<circle cx="307.00" cy="89.20" r="2.0" fill="#dc0e3e"/>
<circle cx="314.80" cy="91.80" r="2.0" fill="#dc0e3e"/>
<circle cx="307.50" cy="97.30" r="2.0" fill="#dc0e3e"/>
<circle cx="300.20" cy="102.30" r="2.0" fill="#dc0e3e"/>
<circle cx="314.60" cy="102.80" r="2.0" fill="#dc0e3e"/>
<circle cx="307.30" cy="106.80" r="2.0" fill="#dc0e3e"/>
<circle cx="300.40" cy="108.30" r="2.0" fill="#dc0e3e"/>
<circle cx="314.80" cy="111.30" r="2.0" fill="#dc0e3e"/>
<circle cx="310.80" cy="116.70" r="2.0" fill="#dc0e3e"/>
<circle cx="303.60" cy="120.50" r="2.0" fill="#dc0e3e"/>
<circle cx="363.70" cy="88.80" r="2.0" fill="#dc0e3e"/>
<circle cx="363.70" cy="110.30" r="2.0" fill="#dc0e3e"/>
<circle cx="364.00" cy="115.20" r="2.0" fill="#dc0e3e"/>
<circle cx="359.40" cy="123.70" r="2.0" fill="#dc0e3e"/>
<circle cx="365.20" cy="124.00" r="2.0" fill="#dc0e3e"/>
<circle cx="361.70" cy="126.80" r="2.0" fill="#dc0e3e"/>
<circle cx="358.80" cy="128.80" r="2.0" fill="#dc0e3e"/>
<circle cx="356.00" cy="130.90" r="2.0" fill="#dc0e3e"/>
<circle cx="361.70" cy="131.20" r="2.0" fill="#dc0e3e"/>
<circle cx="371.00" cy="130.90" r="2.0" fill="#dc0e3e"/>
<circle cx="364.60" cy="132.90" r="2.0" fill="#dc0e3e"/>
<circle cx="368.70" cy="134.00" r="2.0" fill="#dc0e3e"/>
<circle cx="359.40" cy="135.20" r="2.0" fill="#dc0e3e"/>
<circle cx="365.20" cy="135.20" r="2.0" fill="#dc0e3e"/>
<circle cx="362.30" cy="140.60" r="2.0" fill="#dc0e3e"/>
<circle cx="365.80" cy="140.40" r="2.0" fill="#dc0e3e"/>
<circle cx="279.10" cy="139.00" r="2.0" fill="#0b5784"/>
<circle cx="278.90" cy="141.90" r="2.0" fill="#0b5784"/>
<circle cx="278.80" cy="144.60" r="2.0" fill="#0b5784"/>
<circle cx="277.91" cy="148.78" r="2.0" fill="#0b5784"/>
<circle cx="280.41" cy="148.30" r="2.0" fill="#0b5784"/>
<circle cx="278.10" cy="150.86" r="2.0" fill="#0b5784"/>
<circle cx="280.33" cy="151.13" r="2.0" fill="#0b5784"/>
<circle cx="275.91" cy="152.92" r="2.0" fill="#0b5784"/>
<circle cx="279.38" cy="153.25" r="2.0" fill="#0b5784"/>
<circle cx="282.20" cy="152.90" r="2.0" fill="#0b5784"/>
<circle cx="276.61" cy="155.88" r="2.0" fill="#0b5784"/>
<circle cx="278.88" cy="156.06" r="2.0" fill="#0b5784"/>
<circle cx="281.87" cy="155.32" r="2.0" fill="#0b5784"/>
<circle cx="274.07" cy="158.13" r="2.0" fill="#0b5784"/>
<circle cx="277.88" cy="158.00" r="2.0" fill="#0b5784"/>
<circle cx="280.37" cy="158.04" r="2.0" fill="#0b5784"/>
<circle cx="283.30" cy="157.88" r="2.0" fill="#0b5784"/>
<circle cx="274.60" cy="160.50" r="2.0" fill="#0b5784"/>
<circle cx="277.32" cy="160.28" r="2.0" fill="#0b5784"/>
<circle cx="280.18" cy="160.47" r="2.0" fill="#0b5784"/>
<circle cx="283.11" cy="160.12" r="2.0" fill="#0b5784"/>
<circle cx="272.13" cy="162.95" r="2.0" fill="#0b5784"/>
<circle cx="274.75" cy="162.65" r="2.0" fill="#0b5784"/>
<circle cx="277.81" cy="163.19" r="2.0" fill="#0b5784"/>
<circle cx="279.89" cy="162.77" r="2.0" fill="#0b5784"/>
<circle cx="283.15" cy="163.07" r="2.0" fill="#0b5784"/>
<circle cx="286.11" cy="162.84" r="2.0" fill="#0b5784"/>
<circle cx="273.84" cy="165.44" r="2.0" fill="#0b5784"/>
<circle cx="276.20" cy="165.37" r="2.0" fill="#0b5784"/>
<circle cx="279.45" cy="165.58" r="2.0" fill="#0b5784"/>
<circle cx="281.93" cy="165.37" r="2.0" fill="#0b5784"/>
<circle cx="284.34" cy="165.09" r="2.0" fill="#0b5784"/>
<circle cx="273.78" cy="167.63" r="2.0" fill="#0b5784"/>
<circle cx="276.21" cy="167.74" r="2.0" fill="#0b5784"/>
<circle cx="279.55" cy="167.84" r="2.0" fill="#0b5784"/>
<circle cx="282.21" cy="167.65" r="2.0" fill="#0b5784"/>
<circle cx="285.24" cy="167.92" r="2.0" fill="#0b5784"/>
<circle cx="276.92" cy="170.01" r="2.0" fill="#0b5784"/>
<circle cx="279.49" cy="169.72" r="2.0" fill="#0b5784"/>
<circle cx="281.73" cy="170.26" r="2.0" fill="#0b5784"/>
<circle cx="335.70" cy="54.30" r="2.0" fill="#0b5784"/>
<circle cx="335.70" cy="61.30" r="2.0" fill="#0b5784"/>
<circle cx="334.80" cy="76.10" r="2.0" fill="#0b5784"/>
<circle cx="336.90" cy="80.60" r="2.0" fill="#0b5784"/>
<circle cx="329.60" cy="85.10" r="2.0" fill="#0b5784"/>
<circle cx="338.60" cy="85.10" r="2.0" fill="#0b5784"/>
<circle cx="333.90" cy="87.90" r="2.0" fill="#0b5784"/>
<circle cx="340.70" cy="90.00" r="2.0" fill="#0b5784"/>
<circle cx="327.70" cy="92.60" r="2.0" fill="#0b5784"/>
<circle cx="332.00" cy="92.20" r="2.0" fill="#0b5784"/>
<circle cx="335.30" cy="93.60" r="2.0" fill="#0b5784"/>
<circle cx="342.40" cy="95.30" r="2.0" fill="#0b5784"/>
<circle cx="331.00" cy="96.40" r="2.0" fill="#0b5784"/>
<circle cx="336.70" cy="97.40" r="2.0" fill="#0b5784"/>
<circle cx="332.90" cy="100.20" r="2.0" fill="#0b5784"/>
<circle cx="338.60" cy="99.70" r="2.0" fill="#0b5784"/>
<circle cx="328.70" cy="103.00" r="2.0" fill="#0b5784"/>
<circle cx="334.80" cy="102.10" r="2.0" fill="#0b5784"/>
<circle cx="340.00" cy="102.50" r="2.0" fill="#0b5784"/>
<circle cx="342.80" cy="104.40" r="2.0" fill="#0b5784"/>
<circle cx="332.00" cy="105.40" r="2.0" fill="#0b5784"/>
<circle cx="336.70" cy="105.80" r="2.0" fill="#0b5784"/>
<circle cx="335.30" cy="108.70" r="2.0" fill="#0b5784"/>
<circle cx="339.10" cy="108.70" r="2.0" fill="#0b5784"/>
<circle cx="330.60" cy="110.60" r="2.0" fill="#0b5784"/>
<circle cx="335.80" cy="111.50" r="2.0" fill="#0b5784"/>
<circle cx="341.40" cy="113.90" r="2.0" fill="#0b5784"/>
<circle cx="332.90" cy="114.30" r="2.0" fill="#0b5784"/>
<circle cx="337.20" cy="114.30" r="2.0" fill="#0b5784"/>
<circle cx="344.20" cy="117.60" r="2.0" fill="#0b5784"/>
<circle cx="327.30" cy="119.10" r="2.0" fill="#0b5784"/>
<circle cx="331.50" cy="117.20" r="2.0" fill="#0b5784"/>
<circle cx="336.20" cy="117.60" r="2.0" fill="#0b5784"/>
<circle cx="340.00" cy="120.90" r="2.0" fill="#0b5784"/>
<circle cx="330.10" cy="122.40" r="2.0" fill="#0b5784"/>
<circle cx="334.30" cy="121.40" r="2.0" fill="#0b5784"/>
<circle cx="337.60" cy="124.20" r="2.0" fill="#0b5784"/>
<circle cx="332.00" cy="125.70" r="2.0" fill="#0b5784"/>
<circle cx="328.20" cy="130.80" r="2.0" fill="#0b5784"/>
<circle cx="334.30" cy="127.50" r="2.0" fill="#0b5784"/>
<circle cx="336.20" cy="130.40" r="2.0" fill="#0b5784"/>
<circle cx="342.40" cy="130.40" r="2.0" fill="#0b5784"/>
<circle cx="331.50" cy="132.70" r="2.0" fill="#0b5784"/>
<circle cx="339.10" cy="132.70" r="2.0" fill="#0b5784"/>
<circle cx="333.40" cy="135.10" r="2.0" fill="#0b5784"/>
<circle cx="338.10" cy="135.60" r="2.0" fill="#0b5784"/>
<circle cx="332.50" cy="140.30" r="2.0" fill="#0b5784"/>
<circle cx="338.60" cy="140.30" r="2.0" fill="#0b5784"/>
<circle cx="335.30" cy="142.60" r="2.0" fill="#0b5784"/>
<circle cx="332.90" cy="145.50" r="2.0" fill="#0b5784"/>
<circle cx="336.70" cy="144.50" r="2.0" fill="#0b5784"/>
<circle cx="334.00" cy="90.00" r="2.0" fill="#0b5784"/>
<circle cx="338.00" cy="95.00" r="2.0" fill="#0b5784"/>
<circle cx="333.00" cy="98.50" r="2.0" fill="#0b5784"/>
<circle cx="337.00" cy="101.00" r="2.0" fill="#0b5784"/>
<circle cx="331.00" cy="108.00" r="2.0" fill="#0b5784"/>
<circle cx="339.00" cy="112.00" r="2.0" fill="#0b5784"/>
<circle cx="334.00" cy="116.00" r="2.0" fill="#0b5784"/>
<circle cx="338.00" cy="118.50" r="2.0" fill="#0b5784"/>
<circle cx="335.00" cy="124.00" r="2.0" fill="#0b5784"/>
<circle cx="333.00" cy="129.00" r="2.0" fill="#0b5784"/>
<circle cx="339.00" cy="127.00" r="2.0" fill="#0b5784"/>
<circle cx="336.00" cy="137.00" r="2.0" fill="#0b5784"/>
<circle cx="391.70" cy="79.00" r="2.0" fill="#0b5784"/>
<circle cx="391.70" cy="91.00" r="2.0" fill="#0b5784"/>
<circle cx="392.90" cy="96.20" r="2.0" fill="#0b5784"/>
<circle cx="390.60" cy="98.60" r="2.0" fill="#0b5784"/>
<circle cx="392.10" cy="102.30" r="2.0" fill="#0b5784"/>
<circle cx="388.30" cy="105.20" r="2.0" fill="#0b5784"/>
<circle cx="395.20" cy="103.50" r="2.0" fill="#0b5784"/>
<circle cx="389.86" cy="107.36" r="2.0" fill="#0b5784"/>
<circle cx="391.90" cy="106.67" r="2.0" fill="#0b5784"/>
<circle cx="395.27" cy="107.19" r="2.0" fill="#0b5784"/>
<circle cx="389.65" cy="109.55" r="2.0" fill="#0b5784"/>
<circle cx="392.33" cy="109.79" r="2.0" fill="#0b5784"/>
<circle cx="395.05" cy="109.43" r="2.0" fill="#0b5784"/>
<circle cx="387.22" cy="112.31" r="2.0" fill="#0b5784"/>
<circle cx="390.79" cy="112.80" r="2.0" fill="#0b5784"/>
<circle cx="394.31" cy="112.44" r="2.0" fill="#0b5784"/>
<circle cx="397.24" cy="112.21" r="2.0" fill="#0b5784"/>
<circle cx="387.60" cy="114.72" r="2.0" fill="#0b5784"/>
<circle cx="390.83" cy="114.95" r="2.0" fill="#0b5784"/>
<circle cx="393.65" cy="115.41" r="2.0" fill="#0b5784"/>
<circle cx="396.65" cy="115.15" r="2.0" fill="#0b5784"/>
<circle cx="385.64" cy="117.42" r="2.0" fill="#0b5784"/>
<circle cx="388.94" cy="117.51" r="2.0" fill="#0b5784"/>
<circle cx="392.31" cy="118.20" r="2.0" fill="#0b5784"/>
<circle cx="395.66" cy="117.55" r="2.0" fill="#0b5784"/>
<circle cx="399.06" cy="118.04" r="2.0" fill="#0b5784"/>
<circle cx="387.32" cy="120.83" r="2.0" fill="#0b5784"/>
<circle cx="390.77" cy="120.73" r="2.0" fill="#0b5784"/>
<circle cx="393.86" cy="120.88" r="2.0" fill="#0b5784"/>
<circle cx="397.77" cy="120.23" r="2.0" fill="#0b5784"/>
<circle cx="385.40" cy="123.37" r="2.0" fill="#0b5784"/>
<circle cx="387.99" cy="123.22" r="2.0" fill="#0b5784"/>
<circle cx="390.83" cy="123.54" r="2.0" fill="#0b5784"/>
<circle cx="393.66" cy="123.47" r="2.0" fill="#0b5784"/>
<circle cx="396.36" cy="123.51" r="2.0" fill="#0b5784"/>
<circle cx="399.62" cy="123.17" r="2.0" fill="#0b5784"/>
<circle cx="386.66" cy="126.24" r="2.0" fill="#0b5784"/>
<circle cx="389.61" cy="125.89" r="2.0" fill="#0b5784"/>
<circle cx="392.03" cy="125.76" r="2.0" fill="#0b5784"/>
<circle cx="395.23" cy="125.63" r="2.0" fill="#0b5784"/>
<circle cx="398.22" cy="125.71" r="2.0" fill="#0b5784"/>
<circle cx="385.79" cy="128.45" r="2.0" fill="#0b5784"/>
<circle cx="389.17" cy="128.76" r="2.0" fill="#0b5784"/>
<circle cx="392.16" cy="128.61" r="2.0" fill="#0b5784"/>
<circle cx="395.62" cy="128.67" r="2.0" fill="#0b5784"/>
<circle cx="398.69" cy="128.37" r="2.0" fill="#0b5784"/>
<circle cx="387.49" cy="131.65" r="2.0" fill="#0b5784"/>
<circle cx="390.68" cy="130.96" r="2.0" fill="#0b5784"/>
<circle cx="393.94" cy="131.48" r="2.0" fill="#0b5784"/>
<circle cx="397.11" cy="131.05" r="2.0" fill="#0b5784"/>
<circle cx="386.80" cy="133.65" r="2.0" fill="#0b5784"/>
<circle cx="389.52" cy="133.82" r="2.0" fill="#0b5784"/>
<circle cx="391.98" cy="134.30" r="2.0" fill="#0b5784"/>
<circle cx="394.69" cy="134.02" r="2.0" fill="#0b5784"/>
<circle cx="398.08" cy="133.80" r="2.0" fill="#0b5784"/>
<circle cx="388.63" cy="137.00" r="2.0" fill="#0b5784"/>
<circle cx="392.10" cy="136.87" r="2.0" fill="#0b5784"/>
<circle cx="395.10" cy="136.59" r="2.0" fill="#0b5784"/>
<circle cx="387.41" cy="139.54" r="2.0" fill="#0b5784"/>
<circle cx="390.25" cy="139.76" r="2.0" fill="#0b5784"/>
<circle cx="393.12" cy="139.58" r="2.0" fill="#0b5784"/>
<circle cx="396.03" cy="139.20" r="2.0" fill="#0b5784"/>
<circle cx="390.18" cy="141.83" r="2.0" fill="#0b5784"/>
<circle cx="393.52" cy="142.25" r="2.0" fill="#0b5784"/>
<circle cx="388.12" cy="144.43" r="2.0" fill="#0b5784"/>
<circle cx="392.28" cy="144.52" r="2.0" fill="#0b5784"/>
<circle cx="395.19" cy="144.68" r="2.0" fill="#0b5784"/>
<circle cx="390.20" cy="147.69" r="2.0" fill="#0b5784"/>
<circle cx="393.59" cy="147.37" r="2.0" fill="#0b5784"/>
<circle cx="387.67" cy="150.16" r="2.0" fill="#0b5784"/>
<circle cx="391.02" cy="150.39" r="2.0" fill="#0b5784"/>
<circle cx="393.90" cy="150.40" r="2.0" fill="#0b5784"/>
<circle cx="396.63" cy="150.36" r="2.0" fill="#0b5784"/>
<circle cx="78.30" cy="261.90" r="2.0" fill="#dc0e3e"/>
<circle cx="78.40" cy="266.30" r="2.0" fill="#dc0e3e"/>
<circle cx="69.20" cy="277.30" r="2.0" fill="#dc0e3e"/>
<circle cx="87.70" cy="278.30" r="2.0" fill="#dc0e3e"/>
<circle cx="69.20" cy="282.40" r="2.0" fill="#dc0e3e"/>
<circle cx="78.40" cy="281.00" r="2.0" fill="#dc0e3e"/>
<circle cx="78.40" cy="290.40" r="2.0" fill="#dc0e3e"/>
<circle cx="69.40" cy="295.40" r="2.0" fill="#dc0e3e"/>
<circle cx="78.40" cy="301.20" r="2.0" fill="#dc0e3e"/>
<circle cx="87.50" cy="299.90" r="2.0" fill="#dc0e3e"/>
<circle cx="78.40" cy="311.30" r="2.0" fill="#dc0e3e"/>
<circle cx="69.40" cy="315.90" r="2.0" fill="#dc0e3e"/>
<circle cx="78.10" cy="318.50" r="2.0" fill="#dc0e3e"/>
<circle cx="87.50" cy="317.50" r="2.0" fill="#dc0e3e"/>
<circle cx="78.60" cy="329.00" r="2.0" fill="#dc0e3e"/>
<circle cx="121.00" cy="266.20" r="2.0" fill="#0b5784"/>
<circle cx="121.00" cy="273.60" r="2.0" fill="#0b5784"/>
<circle cx="121.00" cy="279.40" r="2.0" fill="#0b5784"/>
<circle cx="116.90" cy="285.00" r="2.0" fill="#0b5784"/>
<circle cx="121.00" cy="288.70" r="2.0" fill="#0b5784"/>
<circle cx="125.10" cy="291.80" r="2.0" fill="#0b5784"/>
<circle cx="116.90" cy="292.90" r="2.0" fill="#0b5784"/>
<circle cx="121.50" cy="297.00" r="2.0" fill="#0b5784"/>
<circle cx="125.10" cy="298.70" r="2.0" fill="#0b5784"/>
<circle cx="121.50" cy="301.50" r="2.0" fill="#0b5784"/>
<circle cx="117.10" cy="305.00" r="2.0" fill="#0b5784"/>
<circle cx="120.80" cy="306.90" r="2.0" fill="#0b5784"/>
<circle cx="125.10" cy="308.70" r="2.0" fill="#0b5784"/>
<circle cx="116.40" cy="312.10" r="2.0" fill="#0b5784"/>
<circle cx="120.80" cy="313.80" r="2.0" fill="#0b5784"/>
<circle cx="125.10" cy="314.70" r="2.0" fill="#0b5784"/>
<circle cx="129.40" cy="316.30" r="2.0" fill="#0b5784"/>
<circle cx="133.30" cy="318.40" r="2.0" fill="#0b5784"/>
<circle cx="109.30" cy="317.30" r="2.0" fill="#0b5784"/>
<circle cx="120.60" cy="317.70" r="2.0" fill="#0b5784"/>
<circle cx="113.00" cy="319.90" r="2.0" fill="#0b5784"/>
<circle cx="124.70" cy="319.50" r="2.0" fill="#0b5784"/>
<circle cx="128.60" cy="321.50" r="2.0" fill="#0b5784"/>
<circle cx="116.90" cy="322.30" r="2.0" fill="#0b5784"/>
<circle cx="113.40" cy="324.20" r="2.0" fill="#0b5784"/>
<circle cx="121.20" cy="324.10" r="2.0" fill="#0b5784"/>
<circle cx="124.90" cy="326.20" r="2.0" fill="#0b5784"/>
<circle cx="129.40" cy="328.60" r="2.0" fill="#0b5784"/>
<circle cx="113.40" cy="330.50" r="2.0" fill="#0b5784"/>
<circle cx="117.30" cy="331.80" r="2.0" fill="#0b5784"/>
<circle cx="121.50" cy="330.10" r="2.0" fill="#0b5784"/>
<circle cx="125.50" cy="331.80" r="2.0" fill="#0b5784"/>
<circle cx="109.10" cy="335.10" r="2.0" fill="#0b5784"/>
<circle cx="132.70" cy="335.30" r="2.0" fill="#0b5784"/>
<circle cx="113.20" cy="338.80" r="2.0" fill="#0b5784"/>
<circle cx="117.70" cy="337.90" r="2.0" fill="#0b5784"/>
<circle cx="120.80" cy="336.20" r="2.0" fill="#0b5784"/>
<circle cx="125.10" cy="336.90" r="2.0" fill="#0b5784"/>
<circle cx="129.00" cy="338.60" r="2.0" fill="#0b5784"/>
<circle cx="117.30" cy="343.10" r="2.0" fill="#0b5784"/>
<circle cx="121.60" cy="343.80" r="2.0" fill="#0b5784"/>
<circle cx="125.50" cy="344.40" r="2.0" fill="#0b5784"/>
<circle cx="129.60" cy="345.10" r="2.0" fill="#0b5784"/>
<circle cx="117.60" cy="348.70" r="2.0" fill="#0b5784"/>
<circle cx="125.80" cy="348.70" r="2.0" fill="#0b5784"/>
<circle cx="113.00" cy="353.30" r="2.0" fill="#0b5784"/>
<circle cx="117.50" cy="354.20" r="2.0" fill="#0b5784"/>
<circle cx="121.50" cy="355.40" r="2.0" fill="#0b5784"/>
<circle cx="125.80" cy="354.20" r="2.0" fill="#0b5784"/>
<circle cx="129.40" cy="353.00" r="2.0" fill="#0b5784"/>
<circle cx="129.20" cy="360.80" r="2.0" fill="#0b5784"/>
<circle cx="117.50" cy="362.60" r="2.0" fill="#0b5784"/>
<circle cx="113.40" cy="365.20" r="2.0" fill="#0b5784"/>
<circle cx="125.10" cy="364.30" r="2.0" fill="#0b5784"/>
<circle cx="129.00" cy="366.50" r="2.0" fill="#0b5784"/>
<circle cx="116.90" cy="368.20" r="2.0" fill="#0b5784"/>
<circle cx="121.50" cy="368.20" r="2.0" fill="#0b5784"/>
<circle cx="125.10" cy="372.10" r="2.0" fill="#0b5784"/>
<circle cx="121.20" cy="373.40" r="2.0" fill="#0b5784"/>
<circle cx="120.90" cy="381.60" r="2.0" fill="#0b5784"/>
<circle cx="261.80" cy="256.50" r="2.0" fill="#dc0e3e"/>
<circle cx="261.80" cy="272.80" r="2.0" fill="#dc0e3e"/>
<circle cx="261.80" cy="282.90" r="2.0" fill="#dc0e3e"/>
<circle cx="261.80" cy="291.10" r="2.0" fill="#dc0e3e"/>
<circle cx="249.70" cy="302.10" r="2.0" fill="#dc0e3e"/>
<circle cx="257.70" cy="302.90" r="2.0" fill="#dc0e3e"/>
<circle cx="265.90" cy="301.80" r="2.0" fill="#dc0e3e"/>
<circle cx="273.80" cy="301.40" r="2.0" fill="#dc0e3e"/>
<circle cx="265.90" cy="308.90" r="2.0" fill="#dc0e3e"/>
<circle cx="273.90" cy="310.10" r="2.0" fill="#dc0e3e"/>
<circle cx="257.70" cy="312.90" r="2.0" fill="#dc0e3e"/>
<circle cx="265.90" cy="313.60" r="2.0" fill="#dc0e3e"/>
<circle cx="257.80" cy="322.30" r="2.0" fill="#dc0e3e"/>
<circle cx="265.90" cy="323.30" r="2.0" fill="#dc0e3e"/>
<circle cx="261.80" cy="329.70" r="2.0" fill="#dc0e3e"/>
<circle cx="304.30" cy="258.80" r="2.0" fill="#0b5784"/>
<circle cx="304.50" cy="277.70" r="2.0" fill="#0b5784"/>
<circle cx="301.00" cy="283.00" r="2.0" fill="#0b5784"/>
<circle cx="309.00" cy="285.40" r="2.0" fill="#0b5784"/>
<circle cx="303.40" cy="286.30" r="2.0" fill="#0b5784"/>
<circle cx="300.50" cy="287.30" r="2.0" fill="#0b5784"/>
<circle cx="305.80" cy="289.20" r="2.0" fill="#0b5784"/>
<circle cx="303.10" cy="292.10" r="2.0" fill="#0b5784"/>
<circle cx="304.70" cy="297.80" r="2.0" fill="#0b5784"/>
<circle cx="305.80" cy="303.80" r="2.0" fill="#0b5784"/>
<circle cx="300.70" cy="306.90" r="2.0" fill="#0b5784"/>
<circle cx="308.80" cy="309.60" r="2.0" fill="#0b5784"/>
<circle cx="304.00" cy="312.00" r="2.0" fill="#0b5784"/>
<circle cx="300.20" cy="313.70" r="2.0" fill="#0b5784"/>
<circle cx="306.70" cy="316.30" r="2.0" fill="#0b5784"/>
<circle cx="303.10" cy="318.50" r="2.0" fill="#0b5784"/>
<circle cx="317.00" cy="323.00" r="2.0" fill="#0b5784"/>
<circle cx="294.90" cy="324.40" r="2.0" fill="#0b5784"/>
<circle cx="298.80" cy="324.40" r="2.0" fill="#0b5784"/>
<circle cx="305.50" cy="325.40" r="2.0" fill="#0b5784"/>
<circle cx="311.50" cy="325.40" r="2.0" fill="#0b5784"/>
<circle cx="293.00" cy="328.80" r="2.0" fill="#0b5784"/>
<circle cx="297.30" cy="328.30" r="2.0" fill="#0b5784"/>
<circle cx="301.60" cy="328.30" r="2.0" fill="#0b5784"/>
<circle cx="307.90" cy="328.30" r="2.0" fill="#0b5784"/>
<circle cx="316.50" cy="328.30" r="2.0" fill="#0b5784"/>
<circle cx="303.60" cy="330.70" r="2.0" fill="#0b5784"/>
<circle cx="310.80" cy="331.60" r="2.0" fill="#0b5784"/>
<circle cx="302.10" cy="334.00" r="2.0" fill="#0b5784"/>
<circle cx="306.00" cy="336.00" r="2.0" fill="#0b5784"/>
<circle cx="297.30" cy="340.60" r="2.0" fill="#0b5784"/>
<circle cx="308.40" cy="339.80" r="2.0" fill="#0b5784"/>
<circle cx="311.30" cy="341.70" r="2.0" fill="#0b5784"/>
<circle cx="303.10" cy="343.20" r="2.0" fill="#0b5784"/>
<circle cx="307.90" cy="344.60" r="2.0" fill="#0b5784"/>
<circle cx="300.70" cy="347.00" r="2.0" fill="#0b5784"/>
<circle cx="305.50" cy="348.00" r="2.0" fill="#0b5784"/>
<circle cx="303.10" cy="352.30" r="2.0" fill="#0b5784"/>
<circle cx="297.80" cy="356.60" r="2.0" fill="#0b5784"/>
<circle cx="302.10" cy="354.70" r="2.0" fill="#0b5784"/>
<circle cx="308.80" cy="354.20" r="2.0" fill="#0b5784"/>
<circle cx="304.50" cy="356.20" r="2.0" fill="#0b5784"/>
<circle cx="311.70" cy="357.60" r="2.0" fill="#0b5784"/>
<circle cx="300.20" cy="360.50" r="2.0" fill="#0b5784"/>
<circle cx="304.50" cy="361.90" r="2.0" fill="#0b5784"/>
<circle cx="307.90" cy="361.00" r="2.0" fill="#0b5784"/>
<circle cx="303.10" cy="367.20" r="2.0" fill="#0b5784"/>
<circle cx="306.00" cy="368.20" r="2.0" fill="#0b5784"/>
<circle cx="303.60" cy="373.50" r="2.0" fill="#0b5784"/>
<circle cx="306.40" cy="375.40" r="2.0" fill="#0b5784"/>
<circle cx="304.80" cy="383.10" r="2.0" fill="#0b5784"/>
<circle cx="313.50" cy="330.00" r="2.0" fill="#0b5784"/>
<circle cx="299.00" cy="331.50" r="2.0" fill="#0b5784"/>
<circle cx="446.70" cy="262.70" r="2.0" fill="#dc0e3e"/>
<circle cx="446.70" cy="292.60" r="2.0" fill="#dc0e3e"/>
<circle cx="438.20" cy="295.30" r="2.0" fill="#dc0e3e"/>
<circle cx="455.70" cy="296.10" r="2.0" fill="#dc0e3e"/>
<circle cx="446.70" cy="298.20" r="2.0" fill="#dc0e3e"/>
<circle cx="437.70" cy="309.00" r="2.0" fill="#dc0e3e"/>
<circle cx="446.70" cy="312.20" r="2.0" fill="#dc0e3e"/>
<circle cx="455.70" cy="312.20" r="2.0" fill="#dc0e3e"/>
<circle cx="446.70" cy="318.20" r="2.0" fill="#dc0e3e"/>
<circle cx="455.70" cy="324.90" r="2.0" fill="#dc0e3e"/>
<circle cx="437.70" cy="328.40" r="2.0" fill="#dc0e3e"/>
<circle cx="446.70" cy="333.20" r="2.0" fill="#dc0e3e"/>
<circle cx="455.70" cy="332.60" r="2.0" fill="#dc0e3e"/>
<circle cx="442.30" cy="345.30" r="2.0" fill="#dc0e3e"/>
<circle cx="451.00" cy="344.80" r="2.0" fill="#dc0e3e"/>
<circle cx="489.80" cy="256.30" r="2.0" fill="#0b5784"/>
<circle cx="489.80" cy="272.90" r="2.0" fill="#0b5784"/>
<circle cx="489.80" cy="295.70" r="2.0" fill="#0b5784"/>
<circle cx="486.20" cy="302.90" r="2.0" fill="#0b5784"/>
<circle cx="492.90" cy="302.70" r="2.0" fill="#0b5784"/>
<circle cx="495.60" cy="301.40" r="2.0" fill="#0b5784"/>
<circle cx="489.50" cy="305.80" r="2.0" fill="#0b5784"/>
<circle cx="482.80" cy="309.60" r="2.0" fill="#0b5784"/>
<circle cx="486.60" cy="310.60" r="2.0" fill="#0b5784"/>
<circle cx="490.00" cy="311.50" r="2.0" fill="#0b5784"/>
<circle cx="493.40" cy="312.50" r="2.0" fill="#0b5784"/>
<circle cx="483.30" cy="314.40" r="2.0" fill="#0b5784"/>
<circle cx="487.10" cy="315.40" r="2.0" fill="#0b5784"/>
<circle cx="490.50" cy="316.80" r="2.0" fill="#0b5784"/>
<circle cx="495.60" cy="315.40" r="2.0" fill="#0b5784"/>
<circle cx="493.40" cy="318.30" r="2.0" fill="#0b5784"/>
<circle cx="482.80" cy="324.40" r="2.0" fill="#0b5784"/>
<circle cx="486.60" cy="324.00" r="2.0" fill="#0b5784"/>
<circle cx="490.00" cy="324.00" r="2.0" fill="#0b5784"/>
<circle cx="493.40" cy="323.50" r="2.0" fill="#0b5784"/>
<circle cx="485.70" cy="326.80" r="2.0" fill="#0b5784"/>
<circle cx="486.00" cy="330.20" r="2.0" fill="#0b5784"/>
<circle cx="495.80" cy="329.70" r="2.0" fill="#0b5784"/>
<circle cx="498.70" cy="330.20" r="2.0" fill="#0b5784"/>
<circle cx="501.50" cy="331.30" r="2.0" fill="#0b5784"/>
<circle cx="477.00" cy="332.60" r="2.0" fill="#0b5784"/>
<circle cx="480.90" cy="334.00" r="2.0" fill="#0b5784"/>
<circle cx="484.20" cy="332.60" r="2.0" fill="#0b5784"/>
<circle cx="489.00" cy="332.60" r="2.0" fill="#0b5784"/>
<circle cx="493.80" cy="332.60" r="2.0" fill="#0b5784"/>
<circle cx="497.70" cy="334.00" r="2.0" fill="#0b5784"/>
<circle cx="482.80" cy="338.10" r="2.0" fill="#0b5784"/>
<circle cx="489.00" cy="338.10" r="2.0" fill="#0b5784"/>
<circle cx="492.90" cy="337.90" r="2.0" fill="#0b5784"/>
<circle cx="495.80" cy="338.10" r="2.0" fill="#0b5784"/>
<circle cx="486.60" cy="341.50" r="2.0" fill="#0b5784"/>
<circle cx="492.90" cy="341.70" r="2.0" fill="#0b5784"/>
<circle cx="483.80" cy="345.40" r="2.0" fill="#0b5784"/>
<circle cx="489.50" cy="345.60" r="2.0" fill="#0b5784"/>
<circle cx="494.80" cy="346.30" r="2.0" fill="#0b5784"/>
<circle cx="483.80" cy="349.40" r="2.0" fill="#0b5784"/>
<circle cx="487.60" cy="348.50" r="2.0" fill="#0b5784"/>
<circle cx="490.50" cy="349.40" r="2.0" fill="#0b5784"/>
<circle cx="493.40" cy="348.50" r="2.0" fill="#0b5784"/>
<circle cx="482.80" cy="354.40" r="2.0" fill="#0b5784"/>
<circle cx="486.60" cy="353.50" r="2.0" fill="#0b5784"/>
<circle cx="492.40" cy="354.20" r="2.0" fill="#0b5784"/>
<circle cx="495.80" cy="352.50" r="2.0" fill="#0b5784"/>
<circle cx="480.40" cy="358.80" r="2.0" fill="#0b5784"/>
<circle cx="487.10" cy="360.00" r="2.0" fill="#0b5784"/>
<circle cx="490.50" cy="359.50" r="2.0" fill="#0b5784"/>
<circle cx="483.80" cy="362.70" r="2.0" fill="#0b5784"/>
<circle cx="492.90" cy="362.40" r="2.0" fill="#0b5784"/>
<circle cx="495.80" cy="362.40" r="2.0" fill="#0b5784"/>
<circle cx="489.50" cy="365.30" r="2.0" fill="#0b5784"/>
<circle cx="489.80" cy="372.00" r="2.0" fill="#0b5784"/>
<circle cx="488.10" cy="383.10" r="2.0" fill="#0b5784"/>
<circle cx="491.40" cy="383.10" r="2.0" fill="#0b5784"/>
<circle cx="91.80" cy="492.00" r="2.0" fill="#dc0e3e"/>
<circle cx="91.60" cy="506.90" r="2.0" fill="#dc0e3e"/>
<circle cx="91.80" cy="527.80" r="2.0" fill="#dc0e3e"/>
<circle cx="91.80" cy="536.50" r="2.0" fill="#dc0e3e"/>
<circle cx="103.80" cy="537.20" r="2.0" fill="#dc0e3e"/>
<circle cx="85.80" cy="538.70" r="2.0" fill="#dc0e3e"/>
<circle cx="98.00" cy="538.20" r="2.0" fill="#dc0e3e"/>
<circle cx="79.50" cy="540.40" r="2.0" fill="#dc0e3e"/>
<circle cx="91.80" cy="542.00" r="2.0" fill="#dc0e3e"/>
<circle cx="91.80" cy="548.30" r="2.0" fill="#dc0e3e"/>
<circle cx="85.80" cy="551.20" r="2.0" fill="#dc0e3e"/>
<circle cx="97.80" cy="551.90" r="2.0" fill="#dc0e3e"/>
<circle cx="91.80" cy="553.10" r="2.0" fill="#dc0e3e"/>
<circle cx="79.50" cy="554.00" r="2.0" fill="#dc0e3e"/>
<circle cx="103.80" cy="554.50" r="2.0" fill="#dc0e3e"/>
<circle cx="134.60" cy="556.90" r="2.0" fill="#0b5784"/>
<circle cx="135.10" cy="561.50" r="2.0" fill="#0b5784"/>
<circle cx="127.90" cy="565.40" r="2.0" fill="#0b5784"/>
<circle cx="131.70" cy="564.40" r="2.0" fill="#0b5784"/>
<circle cx="138.00" cy="563.90" r="2.0" fill="#0b5784"/>
<circle cx="142.00" cy="564.90" r="2.0" fill="#0b5784"/>
<circle cx="130.30" cy="568.30" r="2.0" fill="#0b5784"/>
<circle cx="134.60" cy="567.30" r="2.0" fill="#0b5784"/>
<circle cx="138.90" cy="568.80" r="2.0" fill="#0b5784"/>
<circle cx="130.80" cy="572.10" r="2.0" fill="#0b5784"/>
<circle cx="135.10" cy="573.10" r="2.0" fill="#0b5784"/>
<circle cx="139.40" cy="574.00" r="2.0" fill="#0b5784"/>
<circle cx="130.80" cy="576.40" r="2.0" fill="#0b5784"/>
<circle cx="136.00" cy="576.00" r="2.0" fill="#0b5784"/>
<circle cx="138.90" cy="578.80" r="2.0" fill="#0b5784"/>
<circle cx="130.30" cy="580.80" r="2.0" fill="#0b5784"/>
<circle cx="135.10" cy="580.80" r="2.0" fill="#0b5784"/>
<circle cx="132.20" cy="583.20" r="2.0" fill="#0b5784"/>
<circle cx="139.90" cy="583.70" r="2.0" fill="#0b5784"/>
<circle cx="122.60" cy="584.10" r="2.0" fill="#0b5784"/>
<circle cx="125.50" cy="587.00" r="2.0" fill="#0b5784"/>
<circle cx="129.30" cy="586.10" r="2.0" fill="#0b5784"/>
<circle cx="134.10" cy="586.50" r="2.0" fill="#0b5784"/>
<circle cx="138.00" cy="587.00" r="2.0" fill="#0b5784"/>
<circle cx="142.80" cy="588.00" r="2.0" fill="#0b5784"/>
<circle cx="146.10" cy="586.30" r="2.0" fill="#0b5784"/>
<circle cx="126.40" cy="590.40" r="2.0" fill="#0b5784"/>
<circle cx="130.80" cy="589.40" r="2.0" fill="#0b5784"/>
<circle cx="135.10" cy="590.40" r="2.0" fill="#0b5784"/>
<circle cx="139.90" cy="589.90" r="2.0" fill="#0b5784"/>
<circle cx="128.80" cy="592.80" r="2.0" fill="#0b5784"/>
<circle cx="133.20" cy="592.80" r="2.0" fill="#0b5784"/>
<circle cx="137.50" cy="593.30" r="2.0" fill="#0b5784"/>
<circle cx="127.40" cy="595.20" r="2.0" fill="#0b5784"/>
<circle cx="131.20" cy="595.20" r="2.0" fill="#0b5784"/>
<circle cx="135.60" cy="595.70" r="2.0" fill="#0b5784"/>
<circle cx="142.30" cy="594.40" r="2.0" fill="#0b5784"/>
<circle cx="126.40" cy="597.60" r="2.0" fill="#0b5784"/>
<circle cx="130.80" cy="597.10" r="2.0" fill="#0b5784"/>
<circle cx="140.40" cy="597.60" r="2.0" fill="#0b5784"/>
<circle cx="136.00" cy="603.40" r="2.0" fill="#0b5784"/>
<circle cx="131.70" cy="607.20" r="2.0" fill="#0b5784"/>
<circle cx="136.50" cy="608.20" r="2.0" fill="#0b5784"/>
<circle cx="132.70" cy="611.50" r="2.0" fill="#0b5784"/>
<circle cx="129.80" cy="615.40" r="2.0" fill="#0b5784"/>
<circle cx="135.60" cy="613.90" r="2.0" fill="#0b5784"/>
<circle cx="138.90" cy="616.30" r="2.0" fill="#0b5784"/>
<circle cx="134.10" cy="616.80" r="2.0" fill="#0b5784"/>
<circle cx="133.00" cy="570.00" r="2.0" fill="#0b5784"/>
<circle cx="137.00" cy="584.00" r="2.0" fill="#0b5784"/>
<circle cx="131.00" cy="591.50" r="2.0" fill="#0b5784"/>
<circle cx="141.00" cy="592.00" r="2.0" fill="#0b5784"/>
<circle cx="127.00" cy="580.00" r="2.0" fill="#0b5784"/>
<circle cx="133.50" cy="599.00" r="2.0" fill="#0b5784"/>
<circle cx="269.60" cy="476.60" r="2.0" fill="#dc0e3e"/>
<circle cx="269.30" cy="520.80" r="2.0" fill="#dc0e3e"/>
<circle cx="269.00" cy="537.10" r="2.0" fill="#dc0e3e"/>
<circle cx="273.50" cy="551.90" r="2.0" fill="#dc0e3e"/>
<circle cx="265.50" cy="555.20" r="2.0" fill="#dc0e3e"/>
<circle cx="257.00" cy="564.90" r="2.0" fill="#dc0e3e"/>
<circle cx="265.50" cy="563.50" r="2.0" fill="#dc0e3e"/>
<circle cx="273.50" cy="561.80" r="2.0" fill="#dc0e3e"/>
<circle cx="281.40" cy="561.80" r="2.0" fill="#dc0e3e"/>
<circle cx="265.90" cy="569.60" r="2.0" fill="#dc0e3e"/>
<circle cx="274.00" cy="567.70" r="2.0" fill="#dc0e3e"/>
<circle cx="265.50" cy="575.90" r="2.0" fill="#dc0e3e"/>
<circle cx="274.00" cy="573.80" r="2.0" fill="#dc0e3e"/>
<circle cx="265.50" cy="585.10" r="2.0" fill="#dc0e3e"/>
<circle cx="273.20" cy="582.60" r="2.0" fill="#dc0e3e"/>
<circle cx="306.60" cy="554.30" r="2.0" fill="#0b5784"/>
<circle cx="313.70" cy="554.60" r="2.0" fill="#0b5784"/>
<circle cx="310.20" cy="558.50" r="2.0" fill="#0b5784"/>
<circle cx="310.50" cy="562.50" r="2.0" fill="#0b5784"/>
<circle cx="307.10" cy="564.20" r="2.0" fill="#0b5784"/>
<circle cx="303.80" cy="564.90" r="2.0" fill="#0b5784"/>
<circle cx="310.50" cy="568.60" r="2.0" fill="#0b5784"/>
<circle cx="299.40" cy="570.20" r="2.0" fill="#0b5784"/>
<circle cx="313.80" cy="571.90" r="2.0" fill="#0b5784"/>
<circle cx="320.60" cy="571.40" r="2.0" fill="#0b5784"/>
<circle cx="323.30" cy="572.10" r="2.0" fill="#0b5784"/>
<circle cx="303.30" cy="572.90" r="2.0" fill="#0b5784"/>
<circle cx="306.60" cy="574.30" r="2.0" fill="#0b5784"/>
<circle cx="310.80" cy="575.00" r="2.0" fill="#0b5784"/>
<circle cx="320.60" cy="577.20" r="2.0" fill="#0b5784"/>
<circle cx="318.20" cy="579.60" r="2.0" fill="#0b5784"/>
<circle cx="324.40" cy="579.10" r="2.0" fill="#0b5784"/>
<circle cx="304.70" cy="579.10" r="2.0" fill="#0b5784"/>
<circle cx="307.60" cy="579.10" r="2.0" fill="#0b5784"/>
<circle cx="300.90" cy="581.30" r="2.0" fill="#0b5784"/>
<circle cx="310.50" cy="581.30" r="2.0" fill="#0b5784"/>
<circle cx="314.30" cy="583.50" r="2.0" fill="#0b5784"/>
<circle cx="320.60" cy="583.90" r="2.0" fill="#0b5784"/>
<circle cx="306.60" cy="584.40" r="2.0" fill="#0b5784"/>
<circle cx="316.70" cy="585.90" r="2.0" fill="#0b5784"/>
<circle cx="303.30" cy="587.30" r="2.0" fill="#0b5784"/>
<circle cx="310.50" cy="587.10" r="2.0" fill="#0b5784"/>
<circle cx="299.40" cy="590.70" r="2.0" fill="#0b5784"/>
<circle cx="302.80" cy="592.10" r="2.0" fill="#0b5784"/>
<circle cx="306.60" cy="592.10" r="2.0" fill="#0b5784"/>
<circle cx="310.50" cy="592.10" r="2.0" fill="#0b5784"/>
<circle cx="314.30" cy="592.10" r="2.0" fill="#0b5784"/>
<circle cx="318.20" cy="591.60" r="2.0" fill="#0b5784"/>
<circle cx="321.50" cy="591.00" r="2.0" fill="#0b5784"/>
<circle cx="324.40" cy="590.00" r="2.0" fill="#0b5784"/>
<circle cx="302.80" cy="594.50" r="2.0" fill="#0b5784"/>
<circle cx="305.70" cy="597.40" r="2.0" fill="#0b5784"/>
<circle cx="309.50" cy="597.40" r="2.0" fill="#0b5784"/>
<circle cx="313.40" cy="597.40" r="2.0" fill="#0b5784"/>
<circle cx="316.30" cy="596.90" r="2.0" fill="#0b5784"/>
<circle cx="319.60" cy="598.40" r="2.0" fill="#0b5784"/>
<circle cx="323.90" cy="598.80" r="2.0" fill="#0b5784"/>
<circle cx="302.80" cy="598.80" r="2.0" fill="#0b5784"/>
<circle cx="313.40" cy="601.30" r="2.0" fill="#0b5784"/>
<circle cx="317.20" cy="601.70" r="2.0" fill="#0b5784"/>
<circle cx="320.60" cy="602.70" r="2.0" fill="#0b5784"/>
<circle cx="300.40" cy="603.20" r="2.0" fill="#0b5784"/>
<circle cx="304.20" cy="603.50" r="2.0" fill="#0b5784"/>
<circle cx="306.60" cy="607.50" r="2.0" fill="#0b5784"/>
<circle cx="310.50" cy="607.30" r="2.0" fill="#0b5784"/>
<circle cx="313.80" cy="606.50" r="2.0" fill="#0b5784"/>
<circle cx="317.20" cy="606.10" r="2.0" fill="#0b5784"/>
<circle cx="324.40" cy="607.30" r="2.0" fill="#0b5784"/>
<circle cx="299.90" cy="608.90" r="2.0" fill="#0b5784"/>
<circle cx="314.30" cy="610.40" r="2.0" fill="#0b5784"/>
<circle cx="310.50" cy="613.30" r="2.0" fill="#0b5784"/>
<circle cx="311.00" cy="617.60" r="2.0" fill="#0b5784"/>
<circle cx="313.80" cy="617.60" r="2.0" fill="#0b5784"/>
<circle cx="441.20" cy="482.30" r="2.0" fill="#dc0e3e"/>
<circle cx="449.20" cy="486.80" r="2.0" fill="#dc0e3e"/>
<circle cx="441.00" cy="490.70" r="2.0" fill="#dc0e3e"/>
<circle cx="441.20" cy="520.40" r="2.0" fill="#dc0e3e"/>
<circle cx="449.50" cy="519.50" r="2.0" fill="#dc0e3e"/>
<circle cx="433.00" cy="527.70" r="2.0" fill="#dc0e3e"/>
<circle cx="448.90" cy="529.50" r="2.0" fill="#dc0e3e"/>
<circle cx="457.50" cy="531.60" r="2.0" fill="#dc0e3e"/>
<circle cx="441.20" cy="533.60" r="2.0" fill="#dc0e3e"/>
<circle cx="449.20" cy="534.80" r="2.0" fill="#dc0e3e"/>
<circle cx="445.00" cy="540.20" r="2.0" fill="#dc0e3e"/>
<circle cx="445.00" cy="550.10" r="2.0" fill="#dc0e3e"/>
<circle cx="441.00" cy="559.00" r="2.0" fill="#dc0e3e"/>
<circle cx="448.90" cy="562.90" r="2.0" fill="#dc0e3e"/>
<circle cx="445.00" cy="568.80" r="2.0" fill="#dc0e3e"/>
<circle cx="488.10" cy="504.60" r="2.0" fill="#0b5784"/>
<circle cx="488.30" cy="512.30" r="2.0" fill="#0b5784"/>
<circle cx="491.40" cy="514.20" r="2.0" fill="#0b5784"/>
<circle cx="488.10" cy="518.10" r="2.0" fill="#0b5784"/>
<circle cx="488.60" cy="523.80" r="2.0" fill="#0b5784"/>
<circle cx="485.40" cy="529.40" r="2.0" fill="#0b5784"/>
<circle cx="491.40" cy="530.60" r="2.0" fill="#0b5784"/>
<circle cx="488.30" cy="533.30" r="2.0" fill="#0b5784"/>
<circle cx="481.50" cy="538.50" r="2.0" fill="#0b5784"/>
<circle cx="488.40" cy="542.10" r="2.0" fill="#0b5784"/>
<circle cx="485.20" cy="544.50" r="2.0" fill="#0b5784"/>
<circle cx="494.30" cy="545.80" r="2.0" fill="#0b5784"/>
<circle cx="481.80" cy="546.70" r="2.0" fill="#0b5784"/>
<circle cx="488.60" cy="548.20" r="2.0" fill="#0b5784"/>
<circle cx="485.20" cy="549.80" r="2.0" fill="#0b5784"/>
<circle cx="482.10" cy="553.50" r="2.0" fill="#0b5784"/>
<circle cx="488.40" cy="553.20" r="2.0" fill="#0b5784"/>
<circle cx="493.80" cy="555.80" r="2.0" fill="#0b5784"/>
<circle cx="491.20" cy="558.00" r="2.0" fill="#0b5784"/>
<circle cx="481.50" cy="558.90" r="2.0" fill="#0b5784"/>
<circle cx="485.40" cy="558.30" r="2.0" fill="#0b5784"/>
<circle cx="488.60" cy="560.20" r="2.0" fill="#0b5784"/>
<circle cx="482.30" cy="564.00" r="2.0" fill="#0b5784"/>
<circle cx="490.50" cy="562.80" r="2.0" fill="#0b5784"/>
<circle cx="493.80" cy="564.00" r="2.0" fill="#0b5784"/>
<circle cx="482.30" cy="565.10" r="2.0" fill="#0b5784"/>
<circle cx="488.10" cy="564.90" r="2.0" fill="#0b5784"/>
<circle cx="493.70" cy="565.10" r="2.0" fill="#0b5784"/>
<circle cx="485.20" cy="568.50" r="2.0" fill="#0b5784"/>
<circle cx="491.00" cy="568.30" r="2.0" fill="#0b5784"/>
<circle cx="478.90" cy="571.20" r="2.0" fill="#0b5784"/>
<circle cx="483.30" cy="569.90" r="2.0" fill="#0b5784"/>
<circle cx="500.10" cy="569.40" r="2.0" fill="#0b5784"/>
<circle cx="475.60" cy="575.20" r="2.0" fill="#0b5784"/>
<circle cx="479.40" cy="576.60" r="2.0" fill="#0b5784"/>
<circle cx="482.80" cy="575.00" r="2.0" fill="#0b5784"/>
<circle cx="486.60" cy="575.00" r="2.0" fill="#0b5784"/>
<circle cx="494.80" cy="574.70" r="2.0" fill="#0b5784"/>
<circle cx="498.20" cy="576.60" r="2.0" fill="#0b5784"/>
<circle cx="501.30" cy="578.60" r="2.0" fill="#0b5784"/>
<circle cx="485.70" cy="578.60" r="2.0" fill="#0b5784"/>
<circle cx="490.00" cy="578.10" r="2.0" fill="#0b5784"/>
<circle cx="481.30" cy="580.20" r="2.0" fill="#0b5784"/>
<circle cx="488.80" cy="581.40" r="2.0" fill="#0b5784"/>
<circle cx="493.70" cy="580.50" r="2.0" fill="#0b5784"/>
<circle cx="482.30" cy="585.60" r="2.0" fill="#0b5784"/>
<circle cx="486.30" cy="585.00" r="2.0" fill="#0b5784"/>
<circle cx="494.60" cy="586.00" r="2.0" fill="#0b5784"/>
<circle cx="484.70" cy="588.20" r="2.0" fill="#0b5784"/>
<circle cx="481.80" cy="590.80" r="2.0" fill="#0b5784"/>
<circle cx="488.10" cy="590.80" r="2.0" fill="#0b5784"/>
<circle cx="494.60" cy="591.70" r="2.0" fill="#0b5784"/>
<circle cx="484.20" cy="593.70" r="2.0" fill="#0b5784"/>
<circle cx="491.20" cy="594.20" r="2.0" fill="#0b5784"/>
<circle cx="488.10" cy="598.10" r="2.0" fill="#0b5784"/>
<circle cx="488.60" cy="605.00" r="2.0" fill="#0b5784"/>
<circle cx="491.00" cy="606.20" r="2.0" fill="#0b5784"/>
<circle cx="485.00" cy="609.80" r="2.0" fill="#0b5784"/>
<circle cx="61.70" cy="746.20" r="2.0" fill="#0b5784"/>
<circle cx="61.70" cy="749.00" r="2.0" fill="#0b5784"/>
<circle cx="62.30" cy="760.60" r="2.0" fill="#0b5784"/>
<circle cx="63.70" cy="766.20" r="2.0" fill="#0b5784"/>
<circle cx="70.00" cy="769.60" r="2.0" fill="#0b5784"/>
<circle cx="76.20" cy="743.10" r="2.0" fill="#0b5784"/>
<circle cx="77.70" cy="777.70" r="2.0" fill="#0b5784"/>
<circle cx="83.50" cy="771.50" r="2.0" fill="#0b5784"/>
<circle cx="92.10" cy="766.70" r="2.0" fill="#0b5784"/>
<circle cx="88.10" cy="797.50" r="2.0" fill="#0b5784"/>
<circle cx="103.10" cy="756.50" r="2.0" fill="#0b5784"/>
<circle cx="106.90" cy="757.10" r="2.0" fill="#0b5784"/>
<circle cx="104.00" cy="773.80" r="2.0" fill="#0b5784"/>
<circle cx="107.90" cy="766.70" r="2.0" fill="#0b5784"/>
<circle cx="107.90" cy="750.00" r="2.0" fill="#0b5784"/>
<circle cx="110.40" cy="747.10" r="2.0" fill="#0b5784"/>
<circle cx="111.70" cy="785.00" r="2.0" fill="#0b5784"/>
<circle cx="115.60" cy="730.80" r="2.0" fill="#0b5784"/>
<circle cx="116.90" cy="737.90" r="2.0" fill="#0b5784"/>
<circle cx="116.20" cy="744.20" r="2.0" fill="#0b5784"/>
<circle cx="118.10" cy="739.80" r="2.0" fill="#0b5784"/>
<circle cx="120.80" cy="735.00" r="2.0" fill="#0b5784"/>
<circle cx="116.90" cy="750.00" r="2.0" fill="#0b5784"/>
<circle cx="115.60" cy="762.90" r="2.0" fill="#0b5784"/>
<circle cx="115.60" cy="765.80" r="2.0" fill="#0b5784"/>
<circle cx="117.50" cy="782.70" r="2.0" fill="#0b5784"/>
<circle cx="118.10" cy="797.50" r="2.0" fill="#0b5784"/>
<circle cx="122.70" cy="764.40" r="2.0" fill="#0b5784"/>
<circle cx="123.80" cy="778.30" r="2.0" fill="#0b5784"/>
<circle cx="123.80" cy="779.60" r="2.0" fill="#0b5784"/>
<circle cx="128.70" cy="749.40" r="2.0" fill="#0b5784"/>
<circle cx="128.10" cy="753.30" r="2.0" fill="#0b5784"/>
<circle cx="130.60" cy="759.00" r="2.0" fill="#0b5784"/>
<circle cx="130.00" cy="778.80" r="2.0" fill="#0b5784"/>
<circle cx="132.50" cy="778.80" r="2.0" fill="#0b5784"/>
<circle cx="131.30" cy="739.40" r="2.0" fill="#0b5784"/>
<circle cx="137.30" cy="752.30" r="2.0" fill="#0b5784"/>
<circle cx="139.00" cy="743.70" r="2.0" fill="#0b5784"/>
<circle cx="141.00" cy="772.90" r="2.0" fill="#0b5784"/>
<circle cx="141.50" cy="787.90" r="2.0" fill="#0b5784"/>
<circle cx="142.90" cy="723.80" r="2.0" fill="#0b5784"/>
<circle cx="146.90" cy="726.30" r="2.0" fill="#0b5784"/>
<circle cx="147.70" cy="732.50" r="2.0" fill="#0b5784"/>
<circle cx="143.80" cy="759.00" r="2.0" fill="#0b5784"/>
<circle cx="149.60" cy="767.10" r="2.0" fill="#0b5784"/>
<circle cx="150.80" cy="774.40" r="2.0" fill="#0b5784"/>
<circle cx="152.30" cy="738.50" r="2.0" fill="#0b5784"/>
<circle cx="153.70" cy="723.10" r="2.0" fill="#0b5784"/>
<circle cx="154.00" cy="759.00" r="2.0" fill="#0b5784"/>
<circle cx="154.00" cy="745.60" r="2.0" fill="#0b5784"/>
<circle cx="156.20" cy="730.00" r="2.0" fill="#0b5784"/>
<circle cx="158.10" cy="737.70" r="2.0" fill="#0b5784"/>
<circle cx="164.80" cy="736.30" r="2.0" fill="#0b5784"/>
<circle cx="156.20" cy="744.60" r="2.0" fill="#0b5784"/>
<circle cx="226.70" cy="686.00" r="2.0" fill="#dc0e3e"/>
<circle cx="215.80" cy="703.70" r="2.0" fill="#dc0e3e"/>
<circle cx="168.70" cy="712.30" r="2.0" fill="#dc0e3e"/>
<circle cx="171.00" cy="724.40" r="2.0" fill="#dc0e3e"/>
<circle cx="183.10" cy="721.90" r="2.0" fill="#dc0e3e"/>
<circle cx="176.20" cy="729.00" r="2.0" fill="#dc0e3e"/>
<circle cx="172.30" cy="731.50" r="2.0" fill="#dc0e3e"/>
<circle cx="187.30" cy="728.70" r="2.0" fill="#dc0e3e"/>
<circle cx="197.30" cy="731.20" r="2.0" fill="#dc0e3e"/>
<circle cx="189.20" cy="733.50" r="2.0" fill="#dc0e3e"/>
<circle cx="186.90" cy="736.30" r="2.0" fill="#dc0e3e"/>
<circle cx="185.40" cy="738.80" r="2.0" fill="#dc0e3e"/>
<circle cx="186.00" cy="742.10" r="2.0" fill="#dc0e3e"/>
<circle cx="169.40" cy="747.90" r="2.0" fill="#dc0e3e"/>
<circle cx="168.50" cy="750.80" r="2.0" fill="#dc0e3e"/>
<circle cx="329.30" cy="756.70" r="2.0" fill="#0b5784"/>
<circle cx="332.00" cy="755.20" r="2.0" fill="#0b5784"/>
<circle cx="338.30" cy="757.50" r="2.0" fill="#0b5784"/>
<circle cx="329.70" cy="769.00" r="2.0" fill="#0b5784"/>
<circle cx="346.40" cy="736.30" r="2.0" fill="#0b5784"/>
<circle cx="344.10" cy="784.00" r="2.0" fill="#0b5784"/>
<circle cx="347.00" cy="788.80" r="2.0" fill="#0b5784"/>
<circle cx="351.40" cy="771.90" r="2.0" fill="#0b5784"/>
<circle cx="356.00" cy="776.30" r="2.0" fill="#0b5784"/>
<circle cx="358.90" cy="771.90" r="2.0" fill="#0b5784"/>
<circle cx="370.50" cy="752.30" r="2.0" fill="#0b5784"/>
<circle cx="372.40" cy="752.30" r="2.0" fill="#0b5784"/>
<circle cx="371.60" cy="756.20" r="2.0" fill="#0b5784"/>
<circle cx="375.50" cy="759.60" r="2.0" fill="#0b5784"/>
<circle cx="376.40" cy="761.50" r="2.0" fill="#0b5784"/>
<circle cx="377.80" cy="760.40" r="2.0" fill="#0b5784"/>
<circle cx="380.30" cy="765.20" r="2.0" fill="#0b5784"/>
<circle cx="380.70" cy="742.10" r="2.0" fill="#0b5784"/>
<circle cx="383.90" cy="745.00" r="2.0" fill="#0b5784"/>
<circle cx="387.00" cy="741.70" r="2.0" fill="#0b5784"/>
<circle cx="387.80" cy="746.20" r="2.0" fill="#0b5784"/>
<circle cx="389.30" cy="745.20" r="2.0" fill="#0b5784"/>
<circle cx="387.00" cy="749.40" r="2.0" fill="#0b5784"/>
<circle cx="386.40" cy="757.50" r="2.0" fill="#0b5784"/>
<circle cx="384.50" cy="764.20" r="2.0" fill="#0b5784"/>
<circle cx="383.20" cy="769.00" r="2.0" fill="#0b5784"/>
<circle cx="386.40" cy="769.60" r="2.0" fill="#0b5784"/>
<circle cx="383.50" cy="784.00" r="2.0" fill="#0b5784"/>
<circle cx="390.80" cy="760.40" r="2.0" fill="#0b5784"/>
<circle cx="391.60" cy="763.50" r="2.0" fill="#0b5784"/>
<circle cx="392.60" cy="766.20" r="2.0" fill="#0b5784"/>
<circle cx="396.60" cy="729.80" r="2.0" fill="#0b5784"/>
<circle cx="398.30" cy="728.30" r="2.0" fill="#0b5784"/>
<circle cx="397.00" cy="749.40" r="2.0" fill="#0b5784"/>
<circle cx="398.50" cy="759.00" r="2.0" fill="#0b5784"/>
<circle cx="400.80" cy="761.00" r="2.0" fill="#0b5784"/>
<circle cx="399.90" cy="746.90" r="2.0" fill="#0b5784"/>
<circle cx="401.80" cy="744.60" r="2.0" fill="#0b5784"/>
<circle cx="406.00" cy="738.50" r="2.0" fill="#0b5784"/>
<circle cx="405.70" cy="752.30" r="2.0" fill="#0b5784"/>
<circle cx="410.50" cy="722.50" r="2.0" fill="#0b5784"/>
<circle cx="410.10" cy="732.10" r="2.0" fill="#0b5784"/>
<circle cx="412.80" cy="735.40" r="2.0" fill="#0b5784"/>
<circle cx="416.20" cy="756.20" r="2.0" fill="#0b5784"/>
<circle cx="416.20" cy="751.90" r="2.0" fill="#0b5784"/>
<circle cx="418.20" cy="749.80" r="2.0" fill="#0b5784"/>
<circle cx="421.00" cy="748.50" r="2.0" fill="#0b5784"/>
<circle cx="421.00" cy="742.30" r="2.0" fill="#0b5784"/>
<circle cx="421.00" cy="720.20" r="2.0" fill="#0b5784"/>
<circle cx="421.60" cy="735.00" r="2.0" fill="#0b5784"/>
<circle cx="424.40" cy="718.10" r="2.0" fill="#0b5784"/>
<circle cx="425.40" cy="721.50" r="2.0" fill="#0b5784"/>
<circle cx="426.90" cy="724.20" r="2.0" fill="#0b5784"/>
<circle cx="425.00" cy="727.70" r="2.0" fill="#0b5784"/>
<circle cx="433.50" cy="736.30" r="2.0" fill="#0b5784"/>
<circle cx="485.00" cy="707.10" r="2.0" fill="#dc0e3e"/>
<circle cx="496.00" cy="709.00" r="2.0" fill="#dc0e3e"/>
<circle cx="453.70" cy="710.00" r="2.0" fill="#dc0e3e"/>
<circle cx="466.20" cy="721.90" r="2.0" fill="#dc0e3e"/>
<circle cx="436.90" cy="722.50" r="2.0" fill="#dc0e3e"/>
<circle cx="438.50" cy="728.70" r="2.0" fill="#dc0e3e"/>
<circle cx="440.80" cy="730.60" r="2.0" fill="#dc0e3e"/>
<circle cx="451.30" cy="727.70" r="2.0" fill="#dc0e3e"/>
<circle cx="455.60" cy="725.80" r="2.0" fill="#dc0e3e"/>
<circle cx="457.70" cy="728.70" r="2.0" fill="#dc0e3e"/>
<circle cx="455.60" cy="732.50" r="2.0" fill="#dc0e3e"/>
<circle cx="439.80" cy="738.30" r="2.0" fill="#dc0e3e"/>
<circle cx="444.20" cy="744.00" r="2.0" fill="#dc0e3e"/>
<circle cx="455.60" cy="747.30" r="2.0" fill="#dc0e3e"/>
<circle cx="437.30" cy="750.80" r="2.0" fill="#dc0e3e"/>
</svg>
</body></html>
